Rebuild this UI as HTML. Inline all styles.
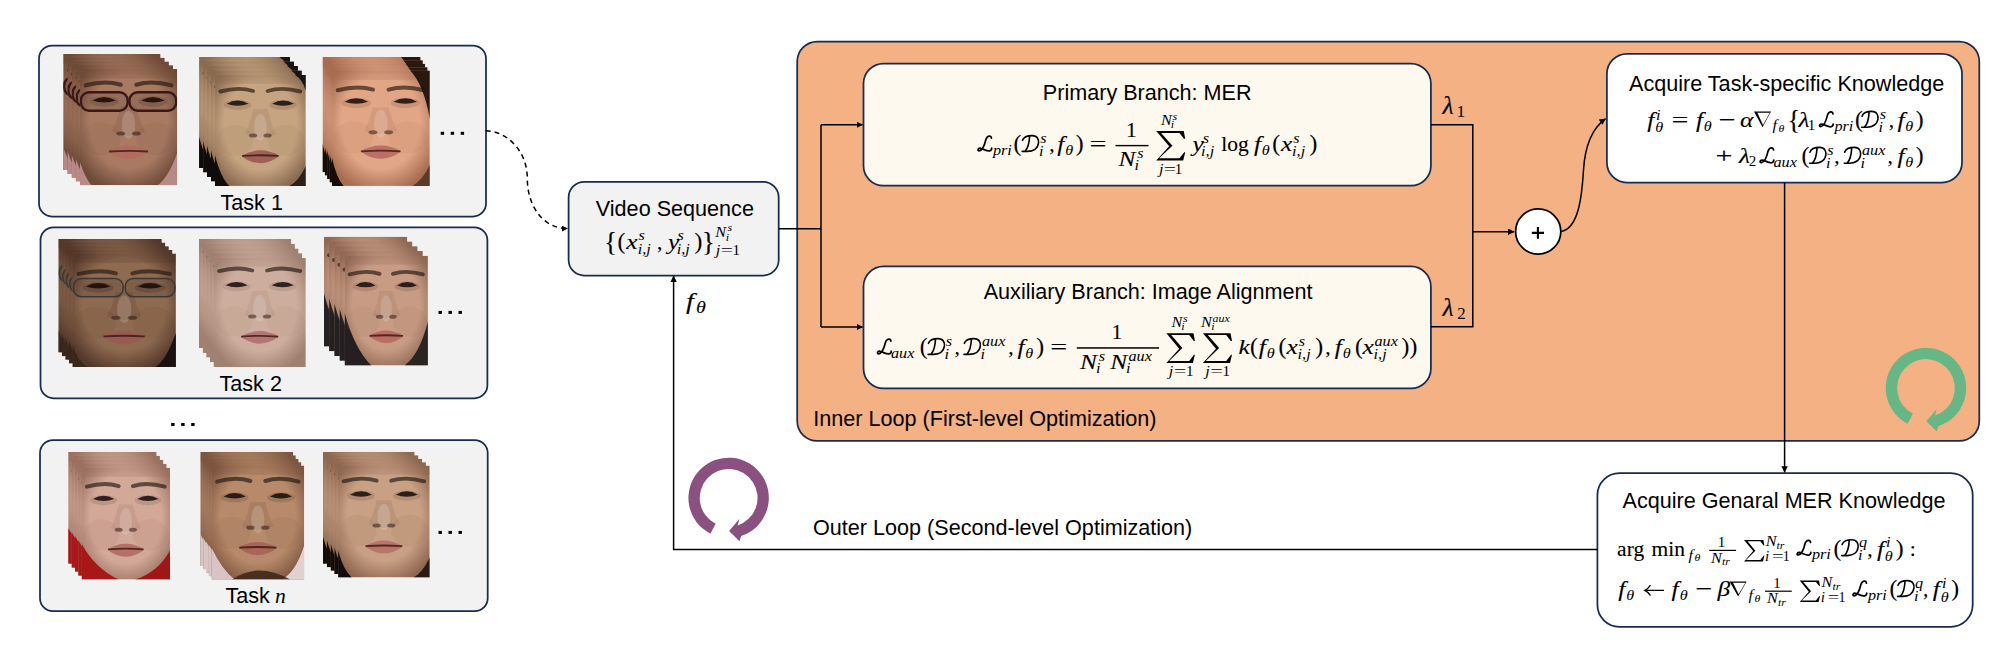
<!DOCTYPE html>
<html><head><meta charset="utf-8">
<style>
html,body{margin:0;padding:0;background:#fff;}
#root{position:relative;width:1998px;height:647px;overflow:hidden;background:#fff;}
svg{position:absolute;left:0;top:0;}
</style></head>
<body><div id="root">
<svg width="1998" height="647" viewBox="0 0 1998 647">
<defs>
<marker id="ah" markerWidth="8" markerHeight="8" refX="6" refY="3.2" orient="auto" markerUnits="userSpaceOnUse">
<path d="M0 0 L6.5 3.2 L0 6.4 Z" fill="#000"/>
</marker>
</defs>
<!-- task boxes -->
<rect x="39" y="45.6" width="447" height="170.9" rx="13" fill="#f2f2f2" stroke="#172c50" stroke-width="1.75"/>
<rect x="40.5" y="227.3" width="446.9" height="171" rx="13" fill="#f2f2f2" stroke="#172c50" stroke-width="1.75"/>
<rect x="40" y="440" width="447.7" height="171.2" rx="13" fill="#f2f2f2" stroke="#172c50" stroke-width="1.75"/>
<!-- video sequence -->
<rect x="568.6" y="181.9" width="210.1" height="93.6" rx="15.6" fill="#f2f2f2" stroke="#172c50" stroke-width="1.75"/>
<!-- orange -->
<rect x="797.2" y="41.5" width="1182.1" height="399.4" rx="20" fill="#f4b183" stroke="#172c50" stroke-width="1.75"/>
<rect x="863.5" y="63.6" width="567.4" height="122.1" rx="20" fill="#fef9ee" stroke="#172c50" stroke-width="1.75"/>
<rect x="863.5" y="266.4" width="567.4" height="122" rx="20" fill="#fef9ee" stroke="#172c50" stroke-width="1.75"/>
<rect x="1606.9" y="53.8" width="355.1" height="128.7" rx="20" fill="#fff" stroke="#172c50" stroke-width="1.75"/>
<rect x="1597.4" y="473.1" width="375.3" height="153.7" rx="22" fill="#fff" stroke="#172c50" stroke-width="1.75"/>
<!-- lines -->
<g stroke="#000" stroke-width="1.5" fill="none">
<path d="M778.7 228.8 H821"/>
<path d="M821 124.8 V327"/>
<path d="M821 124.8 H862.5" marker-end="url(#ah)"/>
<path d="M821 327 H862.5" marker-end="url(#ah)"/>
<path d="M1431 124.8 H1472.8 V326.7 H1431"/>
<path d="M1472.8 231.7 H1514" marker-end="url(#ah)"/>
<path d="M1561.4 231.5 C1579 228 1582 195 1583.5 170 C1585 146 1591 129 1605.5 118.8" marker-end="url(#ah)"/>
<path d="M1784.6 182.5 V472.3" marker-end="url(#ah)"/>
<path d="M1597.4 549.5 H673.6 V276" marker-end="url(#ah)"/>
<path d="M485.7 130.7 C506 131 527.3 150 527.3 178.4 C527.3 206 543 228.6 567.5 228.6" stroke-dasharray="5 4" marker-end="url(#ah)"/>
</g>
<circle cx="1538.2" cy="231.5" r="22.6" fill="#fff" stroke="#000" stroke-width="1.75"/>
<!-- loops -->
<path d="M710.4 533.7 A40.2 40.2 0 1 1 741.1 536.1 L739.5 541.2 L729.1 531.1 L739.5 518.8 L737.6 525.4 A28.9 28.9 0 1 0 715.6 523.7 Z" fill="#8a5180"/>
<path d="M1907.7 423.8 A40.2 40.2 0 1 1 1938.4 426.2 L1936.8 431.3 L1926.4 421.2 L1936.8 408.9 L1934.9 415.5 A28.9 28.9 0 1 0 1912.9 413.8 Z" fill="#66b686"/>

<defs><clipPath id="cla"><rect x="0" y="0" width="97.3" height="116.2"/></clipPath><radialGradient id="ska" cx="0.5" cy="0.45" r="0.62"><stop offset="0" stop-color="#a87a62"/><stop offset="0.65" stop-color="#a87a62"/><stop offset="1" stop-color="#6e4a38"/></radialGradient>
<clipPath id="clb"><rect x="0" y="0" width="90.9" height="111.0"/></clipPath><radialGradient id="skb" cx="0.5" cy="0.45" r="0.62"><stop offset="0" stop-color="#c6a482"/><stop offset="0.65" stop-color="#c6a482"/><stop offset="1" stop-color="#8a6a50"/></radialGradient>
<clipPath id="clc"><rect x="0" y="0" width="98.0" height="115.3"/></clipPath><radialGradient id="skc" cx="0.5" cy="0.45" r="0.62"><stop offset="0" stop-color="#e0a686"/><stop offset="0.65" stop-color="#e0a686"/><stop offset="1" stop-color="#a86c50"/></radialGradient>
<clipPath id="cld"><rect x="0" y="0" width="103.5" height="113.6"/></clipPath><radialGradient id="skd" cx="0.5" cy="0.45" r="0.62"><stop offset="0" stop-color="#8e6a50"/><stop offset="0.65" stop-color="#8e6a50"/><stop offset="1" stop-color="#54382a"/></radialGradient>
<clipPath id="cle"><rect x="0" y="0" width="92.3" height="109.1"/></clipPath><radialGradient id="ske" cx="0.5" cy="0.45" r="0.62"><stop offset="0" stop-color="#cdae9e"/><stop offset="0.65" stop-color="#cdae9e"/><stop offset="1" stop-color="#a08070"/></radialGradient>
<clipPath id="clf"><rect x="0" y="0" width="83.3" height="109.7"/></clipPath><radialGradient id="skf" cx="0.5" cy="0.45" r="0.62"><stop offset="0" stop-color="#c89c84"/><stop offset="0.65" stop-color="#c89c84"/><stop offset="1" stop-color="#906854"/></radialGradient>
<clipPath id="clg"><rect x="0" y="0" width="88.4" height="111.9"/></clipPath><radialGradient id="skg" cx="0.5" cy="0.45" r="0.62"><stop offset="0" stop-color="#d2a898"/><stop offset="0.65" stop-color="#d2a898"/><stop offset="1" stop-color="#9a7060"/></radialGradient>
<clipPath id="clh"><rect x="0" y="0" width="92.7" height="114.0"/></clipPath><radialGradient id="skh" cx="0.5" cy="0.45" r="0.62"><stop offset="0" stop-color="#b68a6a"/><stop offset="0.65" stop-color="#b68a6a"/><stop offset="1" stop-color="#7e5640"/></radialGradient>
<clipPath id="cli"><rect x="0" y="0" width="91.6" height="111.9"/></clipPath><radialGradient id="ski" cx="0.5" cy="0.45" r="0.62"><stop offset="0" stop-color="#c8a084"/><stop offset="0.65" stop-color="#c8a084"/><stop offset="1" stop-color="#8e6850"/></radialGradient></defs>
<g transform="translate(63.2 53.9)"><g clip-path="url(#cla)"><rect x="0" y="0" width="97.3" height="116.2" fill="url(#ska)"/><rect x="0" y="0" width="97.3" height="9.3" fill="#6e4a38" opacity="0.25"/><path d="M0 93.0 Q5.8 110.4 11.7 116.2 L0 116.2 Z" fill="#b88a86"/><path d="M97.3 83.7 Q89.5 106.9 77.8 116.2 L97.3 116.2 Z" fill="#b88a86"/><ellipse cx="21.4" cy="69.7" rx="19.5" ry="16.3" fill="#6e4a38" opacity="0.1"/><ellipse cx="75.9" cy="69.7" rx="19.5" ry="16.3" fill="#6e4a38" opacity="0.1"/><path d="M40.9 37.2 Q37.0 54.6 32.1 62.7 Q48.6 70.9 65.2 62.7 Q60.3 54.6 56.4 37.2 Z" fill="#6e4a38" opacity="0.2"/><ellipse cx="48.6" cy="55.8" rx="6.8" ry="13.9" fill="#fff" opacity="0.16"/><ellipse cx="40.9" cy="64.5" rx="4.4" ry="2.1" fill="#2a1410" opacity="0.5"/><ellipse cx="56.4" cy="64.5" rx="4.4" ry="2.1" fill="#2a1410" opacity="0.5"/><path d="M40.9 15.7 Q25.3 11.0 5.8 16.3" stroke="#24160e" stroke-width="4.1" fill="none" opacity="0.65" stroke-linecap="round"/><path d="M56.4 15.7 Q72.0 11.0 91.5 16.3" stroke="#24160e" stroke-width="4.1" fill="none" opacity="0.65" stroke-linecap="round"/><ellipse cx="24.3" cy="32.5" rx="14.6" ry="5.2" fill="#6e4a38" opacity="0.35"/><path d="M12.6 31.4 Q24.3 24.4 36.0 31.4 Q24.3 35.4 12.6 31.4 Z" fill="#140c0a" opacity="0.85"/><ellipse cx="73.0" cy="32.5" rx="14.6" ry="5.2" fill="#6e4a38" opacity="0.35"/><path d="M61.3 31.4 Q73.0 24.4 84.7 31.4 Q73.0 35.4 61.3 31.4 Z" fill="#140c0a" opacity="0.85"/><rect x="1.0" y="23.2" width="46.7" height="18.6" rx="8.1" fill="#000" fill-opacity="0.1" stroke="#3a1818" stroke-width="2.4"/><rect x="49.6" y="23.2" width="46.7" height="18.6" rx="8.1" fill="#000" fill-opacity="0.1" stroke="#3a1818" stroke-width="2.4"/><path d="M28.2 82.5 Q48.6 70.9 69.1 82.5 Q48.6 97.6 28.2 82.5 Z" fill="#b06a60" opacity="0.9"/><path d="M29.2 82.5 Q48.6 81.1 68.1 82.5" stroke="#3a1512" stroke-width="1.8" fill="none" opacity="0.8"/></g></g>
<g transform="translate(67.4 57.7)"><g clip-path="url(#cla)"><rect x="0" y="0" width="97.3" height="116.2" fill="url(#ska)"/><rect x="0" y="0" width="97.3" height="9.3" fill="#6e4a38" opacity="0.25"/><path d="M0 93.0 Q5.8 110.4 11.7 116.2 L0 116.2 Z" fill="#b88a86"/><path d="M97.3 83.7 Q89.5 106.9 77.8 116.2 L97.3 116.2 Z" fill="#b88a86"/><ellipse cx="21.4" cy="69.7" rx="19.5" ry="16.3" fill="#6e4a38" opacity="0.1"/><ellipse cx="75.9" cy="69.7" rx="19.5" ry="16.3" fill="#6e4a38" opacity="0.1"/><path d="M40.9 37.2 Q37.0 54.6 32.1 62.7 Q48.6 70.9 65.2 62.7 Q60.3 54.6 56.4 37.2 Z" fill="#6e4a38" opacity="0.2"/><ellipse cx="48.6" cy="55.8" rx="6.8" ry="13.9" fill="#fff" opacity="0.16"/><ellipse cx="40.9" cy="64.5" rx="4.4" ry="2.1" fill="#2a1410" opacity="0.5"/><ellipse cx="56.4" cy="64.5" rx="4.4" ry="2.1" fill="#2a1410" opacity="0.5"/><path d="M40.9 15.7 Q25.3 11.0 5.8 16.3" stroke="#24160e" stroke-width="4.1" fill="none" opacity="0.65" stroke-linecap="round"/><path d="M56.4 15.7 Q72.0 11.0 91.5 16.3" stroke="#24160e" stroke-width="4.1" fill="none" opacity="0.65" stroke-linecap="round"/><ellipse cx="24.3" cy="32.5" rx="14.6" ry="5.2" fill="#6e4a38" opacity="0.35"/><path d="M12.6 31.4 Q24.3 24.4 36.0 31.4 Q24.3 35.4 12.6 31.4 Z" fill="#140c0a" opacity="0.85"/><ellipse cx="73.0" cy="32.5" rx="14.6" ry="5.2" fill="#6e4a38" opacity="0.35"/><path d="M61.3 31.4 Q73.0 24.4 84.7 31.4 Q73.0 35.4 61.3 31.4 Z" fill="#140c0a" opacity="0.85"/><rect x="1.0" y="23.2" width="46.7" height="18.6" rx="8.1" fill="#000" fill-opacity="0.1" stroke="#3a1818" stroke-width="2.4"/><rect x="49.6" y="23.2" width="46.7" height="18.6" rx="8.1" fill="#000" fill-opacity="0.1" stroke="#3a1818" stroke-width="2.4"/><path d="M28.2 82.5 Q48.6 70.9 69.1 82.5 Q48.6 97.6 28.2 82.5 Z" fill="#b06a60" opacity="0.9"/><path d="M29.2 82.5 Q48.6 81.1 68.1 82.5" stroke="#3a1512" stroke-width="1.8" fill="none" opacity="0.8"/></g></g>
<g transform="translate(71.6 61.5)"><g clip-path="url(#cla)"><rect x="0" y="0" width="97.3" height="116.2" fill="url(#ska)"/><rect x="0" y="0" width="97.3" height="9.3" fill="#6e4a38" opacity="0.25"/><path d="M0 93.0 Q5.8 110.4 11.7 116.2 L0 116.2 Z" fill="#b88a86"/><path d="M97.3 83.7 Q89.5 106.9 77.8 116.2 L97.3 116.2 Z" fill="#b88a86"/><ellipse cx="21.4" cy="69.7" rx="19.5" ry="16.3" fill="#6e4a38" opacity="0.1"/><ellipse cx="75.9" cy="69.7" rx="19.5" ry="16.3" fill="#6e4a38" opacity="0.1"/><path d="M40.9 37.2 Q37.0 54.6 32.1 62.7 Q48.6 70.9 65.2 62.7 Q60.3 54.6 56.4 37.2 Z" fill="#6e4a38" opacity="0.2"/><ellipse cx="48.6" cy="55.8" rx="6.8" ry="13.9" fill="#fff" opacity="0.16"/><ellipse cx="40.9" cy="64.5" rx="4.4" ry="2.1" fill="#2a1410" opacity="0.5"/><ellipse cx="56.4" cy="64.5" rx="4.4" ry="2.1" fill="#2a1410" opacity="0.5"/><path d="M40.9 15.7 Q25.3 11.0 5.8 16.3" stroke="#24160e" stroke-width="4.1" fill="none" opacity="0.65" stroke-linecap="round"/><path d="M56.4 15.7 Q72.0 11.0 91.5 16.3" stroke="#24160e" stroke-width="4.1" fill="none" opacity="0.65" stroke-linecap="round"/><ellipse cx="24.3" cy="32.5" rx="14.6" ry="5.2" fill="#6e4a38" opacity="0.35"/><path d="M12.6 31.4 Q24.3 24.4 36.0 31.4 Q24.3 35.4 12.6 31.4 Z" fill="#140c0a" opacity="0.85"/><ellipse cx="73.0" cy="32.5" rx="14.6" ry="5.2" fill="#6e4a38" opacity="0.35"/><path d="M61.3 31.4 Q73.0 24.4 84.7 31.4 Q73.0 35.4 61.3 31.4 Z" fill="#140c0a" opacity="0.85"/><rect x="1.0" y="23.2" width="46.7" height="18.6" rx="8.1" fill="#000" fill-opacity="0.1" stroke="#3a1818" stroke-width="2.4"/><rect x="49.6" y="23.2" width="46.7" height="18.6" rx="8.1" fill="#000" fill-opacity="0.1" stroke="#3a1818" stroke-width="2.4"/><path d="M28.2 82.5 Q48.6 70.9 69.1 82.5 Q48.6 97.6 28.2 82.5 Z" fill="#b06a60" opacity="0.9"/><path d="M29.2 82.5 Q48.6 81.1 68.1 82.5" stroke="#3a1512" stroke-width="1.8" fill="none" opacity="0.8"/></g></g>
<g transform="translate(75.7 65.2)"><g clip-path="url(#cla)"><rect x="0" y="0" width="97.3" height="116.2" fill="url(#ska)"/><rect x="0" y="0" width="97.3" height="9.3" fill="#6e4a38" opacity="0.25"/><path d="M0 93.0 Q5.8 110.4 11.7 116.2 L0 116.2 Z" fill="#b88a86"/><path d="M97.3 83.7 Q89.5 106.9 77.8 116.2 L97.3 116.2 Z" fill="#b88a86"/><ellipse cx="21.4" cy="69.7" rx="19.5" ry="16.3" fill="#6e4a38" opacity="0.1"/><ellipse cx="75.9" cy="69.7" rx="19.5" ry="16.3" fill="#6e4a38" opacity="0.1"/><path d="M40.9 37.2 Q37.0 54.6 32.1 62.7 Q48.6 70.9 65.2 62.7 Q60.3 54.6 56.4 37.2 Z" fill="#6e4a38" opacity="0.2"/><ellipse cx="48.6" cy="55.8" rx="6.8" ry="13.9" fill="#fff" opacity="0.16"/><ellipse cx="40.9" cy="64.5" rx="4.4" ry="2.1" fill="#2a1410" opacity="0.5"/><ellipse cx="56.4" cy="64.5" rx="4.4" ry="2.1" fill="#2a1410" opacity="0.5"/><path d="M40.9 15.7 Q25.3 11.0 5.8 16.3" stroke="#24160e" stroke-width="4.1" fill="none" opacity="0.65" stroke-linecap="round"/><path d="M56.4 15.7 Q72.0 11.0 91.5 16.3" stroke="#24160e" stroke-width="4.1" fill="none" opacity="0.65" stroke-linecap="round"/><ellipse cx="24.3" cy="32.5" rx="14.6" ry="5.2" fill="#6e4a38" opacity="0.35"/><path d="M12.6 31.4 Q24.3 24.4 36.0 31.4 Q24.3 35.4 12.6 31.4 Z" fill="#140c0a" opacity="0.85"/><ellipse cx="73.0" cy="32.5" rx="14.6" ry="5.2" fill="#6e4a38" opacity="0.35"/><path d="M61.3 31.4 Q73.0 24.4 84.7 31.4 Q73.0 35.4 61.3 31.4 Z" fill="#140c0a" opacity="0.85"/><rect x="1.0" y="23.2" width="46.7" height="18.6" rx="8.1" fill="#000" fill-opacity="0.1" stroke="#3a1818" stroke-width="2.4"/><rect x="49.6" y="23.2" width="46.7" height="18.6" rx="8.1" fill="#000" fill-opacity="0.1" stroke="#3a1818" stroke-width="2.4"/><path d="M28.2 82.5 Q48.6 70.9 69.1 82.5 Q48.6 97.6 28.2 82.5 Z" fill="#b06a60" opacity="0.9"/><path d="M29.2 82.5 Q48.6 81.1 68.1 82.5" stroke="#3a1512" stroke-width="1.8" fill="none" opacity="0.8"/></g></g>
<g transform="translate(79.9 69.0)"><g clip-path="url(#cla)"><rect x="0" y="0" width="97.3" height="116.2" fill="url(#ska)"/><rect x="0" y="0" width="97.3" height="9.3" fill="#6e4a38" opacity="0.25"/><path d="M0 93.0 Q5.8 110.4 11.7 116.2 L0 116.2 Z" fill="#b88a86"/><path d="M97.3 83.7 Q89.5 106.9 77.8 116.2 L97.3 116.2 Z" fill="#b88a86"/><ellipse cx="21.4" cy="69.7" rx="19.5" ry="16.3" fill="#6e4a38" opacity="0.1"/><ellipse cx="75.9" cy="69.7" rx="19.5" ry="16.3" fill="#6e4a38" opacity="0.1"/><path d="M40.9 37.2 Q37.0 54.6 32.1 62.7 Q48.6 70.9 65.2 62.7 Q60.3 54.6 56.4 37.2 Z" fill="#6e4a38" opacity="0.2"/><ellipse cx="48.6" cy="55.8" rx="6.8" ry="13.9" fill="#fff" opacity="0.16"/><ellipse cx="40.9" cy="64.5" rx="4.4" ry="2.1" fill="#2a1410" opacity="0.5"/><ellipse cx="56.4" cy="64.5" rx="4.4" ry="2.1" fill="#2a1410" opacity="0.5"/><path d="M40.9 15.7 Q25.3 11.0 5.8 16.3" stroke="#24160e" stroke-width="4.1" fill="none" opacity="0.65" stroke-linecap="round"/><path d="M56.4 15.7 Q72.0 11.0 91.5 16.3" stroke="#24160e" stroke-width="4.1" fill="none" opacity="0.65" stroke-linecap="round"/><ellipse cx="24.3" cy="32.5" rx="14.6" ry="5.2" fill="#6e4a38" opacity="0.35"/><path d="M12.6 31.4 Q24.3 24.4 36.0 31.4 Q24.3 35.4 12.6 31.4 Z" fill="#140c0a" opacity="0.85"/><ellipse cx="73.0" cy="32.5" rx="14.6" ry="5.2" fill="#6e4a38" opacity="0.35"/><path d="M61.3 31.4 Q73.0 24.4 84.7 31.4 Q73.0 35.4 61.3 31.4 Z" fill="#140c0a" opacity="0.85"/><rect x="1.0" y="23.2" width="46.7" height="18.6" rx="8.1" fill="#000" fill-opacity="0.1" stroke="#3a1818" stroke-width="2.4"/><rect x="49.6" y="23.2" width="46.7" height="18.6" rx="8.1" fill="#000" fill-opacity="0.1" stroke="#3a1818" stroke-width="2.4"/><path d="M28.2 82.5 Q48.6 70.9 69.1 82.5 Q48.6 97.6 28.2 82.5 Z" fill="#b06a60" opacity="0.9"/><path d="M29.2 82.5 Q48.6 81.1 68.1 82.5" stroke="#3a1512" stroke-width="1.8" fill="none" opacity="0.8"/></g></g>
<g transform="translate(199.1 56.9)"><g clip-path="url(#clb)"><rect x="0" y="0" width="90.9" height="111.0" fill="url(#skb)"/><rect x="0" y="0" width="90.9" height="8.9" fill="#8a6a50" opacity="0.25"/><path d="M80.0 0 L90.9 0 L90.9 15.5 Q87.6 4.7 80.0 0 Z" fill="#1a1410"/><path d="M0 79.9 Q5.8 103.2 14.5 111.0 L0 111.0 Z" fill="#100c0a"/><path d="M90.9 91.0 Q83.6 106.6 74.5 111.0 L90.9 111.0 Z" fill="#2a2018"/><ellipse cx="20.0" cy="65.5" rx="18.2" ry="15.5" fill="#8a6a50" opacity="0.1"/><ellipse cx="70.9" cy="65.5" rx="18.2" ry="15.5" fill="#8a6a50" opacity="0.1"/><path d="M38.2 34.4 Q34.5 51.1 30.0 58.8 Q45.5 66.6 60.9 58.8 Q56.4 51.1 52.7 34.4 Z" fill="#8a6a50" opacity="0.2"/><ellipse cx="45.5" cy="52.2" rx="6.4" ry="13.3" fill="#fff" opacity="0.16"/><ellipse cx="38.2" cy="60.5" rx="4.1" ry="2.0" fill="#2a1410" opacity="0.5"/><ellipse cx="52.7" cy="60.5" rx="4.1" ry="2.0" fill="#2a1410" opacity="0.5"/><path d="M38.2 16.1 Q23.6 11.7 5.5 16.6" stroke="#24160e" stroke-width="3.9" fill="none" opacity="0.65" stroke-linecap="round"/><path d="M52.7 16.1 Q67.3 11.7 85.4 16.6" stroke="#24160e" stroke-width="3.9" fill="none" opacity="0.65" stroke-linecap="round"/><ellipse cx="22.7" cy="30.0" rx="13.6" ry="5.0" fill="#8a6a50" opacity="0.35"/><path d="M11.8 28.9 Q22.7 22.2 33.6 28.9 Q22.7 32.7 11.8 28.9 Z" fill="#140c0a" opacity="0.85"/><ellipse cx="68.2" cy="30.0" rx="13.6" ry="5.0" fill="#8a6a50" opacity="0.35"/><path d="M57.3 28.9 Q68.2 22.2 79.1 28.9 Q68.2 32.7 57.3 28.9 Z" fill="#140c0a" opacity="0.85"/><path d="M26.4 81.0 Q45.5 69.9 64.5 81.0 Q45.5 95.5 26.4 81.0 Z" fill="#9a5a50" opacity="0.9"/><path d="M27.3 81.0 Q45.5 79.7 63.6 81.0" stroke="#3a1512" stroke-width="1.8" fill="none" opacity="0.8"/></g></g>
<g transform="translate(203.1 61.4)"><g clip-path="url(#clb)"><rect x="0" y="0" width="90.9" height="111.0" fill="url(#skb)"/><rect x="0" y="0" width="90.9" height="8.9" fill="#8a6a50" opacity="0.25"/><path d="M80.0 0 L90.9 0 L90.9 15.5 Q87.6 4.7 80.0 0 Z" fill="#1a1410"/><path d="M0 79.9 Q5.8 103.2 14.5 111.0 L0 111.0 Z" fill="#100c0a"/><path d="M90.9 91.0 Q83.6 106.6 74.5 111.0 L90.9 111.0 Z" fill="#2a2018"/><ellipse cx="20.0" cy="65.5" rx="18.2" ry="15.5" fill="#8a6a50" opacity="0.1"/><ellipse cx="70.9" cy="65.5" rx="18.2" ry="15.5" fill="#8a6a50" opacity="0.1"/><path d="M38.2 34.4 Q34.5 51.1 30.0 58.8 Q45.5 66.6 60.9 58.8 Q56.4 51.1 52.7 34.4 Z" fill="#8a6a50" opacity="0.2"/><ellipse cx="45.5" cy="52.2" rx="6.4" ry="13.3" fill="#fff" opacity="0.16"/><ellipse cx="38.2" cy="60.5" rx="4.1" ry="2.0" fill="#2a1410" opacity="0.5"/><ellipse cx="52.7" cy="60.5" rx="4.1" ry="2.0" fill="#2a1410" opacity="0.5"/><path d="M38.2 16.1 Q23.6 11.7 5.5 16.6" stroke="#24160e" stroke-width="3.9" fill="none" opacity="0.65" stroke-linecap="round"/><path d="M52.7 16.1 Q67.3 11.7 85.4 16.6" stroke="#24160e" stroke-width="3.9" fill="none" opacity="0.65" stroke-linecap="round"/><ellipse cx="22.7" cy="30.0" rx="13.6" ry="5.0" fill="#8a6a50" opacity="0.35"/><path d="M11.8 28.9 Q22.7 22.2 33.6 28.9 Q22.7 32.7 11.8 28.9 Z" fill="#140c0a" opacity="0.85"/><ellipse cx="68.2" cy="30.0" rx="13.6" ry="5.0" fill="#8a6a50" opacity="0.35"/><path d="M57.3 28.9 Q68.2 22.2 79.1 28.9 Q68.2 32.7 57.3 28.9 Z" fill="#140c0a" opacity="0.85"/><path d="M26.4 81.0 Q45.5 69.9 64.5 81.0 Q45.5 95.5 26.4 81.0 Z" fill="#9a5a50" opacity="0.9"/><path d="M27.3 81.0 Q45.5 79.7 63.6 81.0" stroke="#3a1512" stroke-width="1.8" fill="none" opacity="0.8"/></g></g>
<g transform="translate(207.0 65.9)"><g clip-path="url(#clb)"><rect x="0" y="0" width="90.9" height="111.0" fill="url(#skb)"/><rect x="0" y="0" width="90.9" height="8.9" fill="#8a6a50" opacity="0.25"/><path d="M80.0 0 L90.9 0 L90.9 15.5 Q87.6 4.7 80.0 0 Z" fill="#1a1410"/><path d="M0 79.9 Q5.8 103.2 14.5 111.0 L0 111.0 Z" fill="#100c0a"/><path d="M90.9 91.0 Q83.6 106.6 74.5 111.0 L90.9 111.0 Z" fill="#2a2018"/><ellipse cx="20.0" cy="65.5" rx="18.2" ry="15.5" fill="#8a6a50" opacity="0.1"/><ellipse cx="70.9" cy="65.5" rx="18.2" ry="15.5" fill="#8a6a50" opacity="0.1"/><path d="M38.2 34.4 Q34.5 51.1 30.0 58.8 Q45.5 66.6 60.9 58.8 Q56.4 51.1 52.7 34.4 Z" fill="#8a6a50" opacity="0.2"/><ellipse cx="45.5" cy="52.2" rx="6.4" ry="13.3" fill="#fff" opacity="0.16"/><ellipse cx="38.2" cy="60.5" rx="4.1" ry="2.0" fill="#2a1410" opacity="0.5"/><ellipse cx="52.7" cy="60.5" rx="4.1" ry="2.0" fill="#2a1410" opacity="0.5"/><path d="M38.2 16.1 Q23.6 11.7 5.5 16.6" stroke="#24160e" stroke-width="3.9" fill="none" opacity="0.65" stroke-linecap="round"/><path d="M52.7 16.1 Q67.3 11.7 85.4 16.6" stroke="#24160e" stroke-width="3.9" fill="none" opacity="0.65" stroke-linecap="round"/><ellipse cx="22.7" cy="30.0" rx="13.6" ry="5.0" fill="#8a6a50" opacity="0.35"/><path d="M11.8 28.9 Q22.7 22.2 33.6 28.9 Q22.7 32.7 11.8 28.9 Z" fill="#140c0a" opacity="0.85"/><ellipse cx="68.2" cy="30.0" rx="13.6" ry="5.0" fill="#8a6a50" opacity="0.35"/><path d="M57.3 28.9 Q68.2 22.2 79.1 28.9 Q68.2 32.7 57.3 28.9 Z" fill="#140c0a" opacity="0.85"/><path d="M26.4 81.0 Q45.5 69.9 64.5 81.0 Q45.5 95.5 26.4 81.0 Z" fill="#9a5a50" opacity="0.9"/><path d="M27.3 81.0 Q45.5 79.7 63.6 81.0" stroke="#3a1512" stroke-width="1.8" fill="none" opacity="0.8"/></g></g>
<g transform="translate(210.9 70.4)"><g clip-path="url(#clb)"><rect x="0" y="0" width="90.9" height="111.0" fill="url(#skb)"/><rect x="0" y="0" width="90.9" height="8.9" fill="#8a6a50" opacity="0.25"/><path d="M80.0 0 L90.9 0 L90.9 15.5 Q87.6 4.7 80.0 0 Z" fill="#1a1410"/><path d="M0 79.9 Q5.8 103.2 14.5 111.0 L0 111.0 Z" fill="#100c0a"/><path d="M90.9 91.0 Q83.6 106.6 74.5 111.0 L90.9 111.0 Z" fill="#2a2018"/><ellipse cx="20.0" cy="65.5" rx="18.2" ry="15.5" fill="#8a6a50" opacity="0.1"/><ellipse cx="70.9" cy="65.5" rx="18.2" ry="15.5" fill="#8a6a50" opacity="0.1"/><path d="M38.2 34.4 Q34.5 51.1 30.0 58.8 Q45.5 66.6 60.9 58.8 Q56.4 51.1 52.7 34.4 Z" fill="#8a6a50" opacity="0.2"/><ellipse cx="45.5" cy="52.2" rx="6.4" ry="13.3" fill="#fff" opacity="0.16"/><ellipse cx="38.2" cy="60.5" rx="4.1" ry="2.0" fill="#2a1410" opacity="0.5"/><ellipse cx="52.7" cy="60.5" rx="4.1" ry="2.0" fill="#2a1410" opacity="0.5"/><path d="M38.2 16.1 Q23.6 11.7 5.5 16.6" stroke="#24160e" stroke-width="3.9" fill="none" opacity="0.65" stroke-linecap="round"/><path d="M52.7 16.1 Q67.3 11.7 85.4 16.6" stroke="#24160e" stroke-width="3.9" fill="none" opacity="0.65" stroke-linecap="round"/><ellipse cx="22.7" cy="30.0" rx="13.6" ry="5.0" fill="#8a6a50" opacity="0.35"/><path d="M11.8 28.9 Q22.7 22.2 33.6 28.9 Q22.7 32.7 11.8 28.9 Z" fill="#140c0a" opacity="0.85"/><ellipse cx="68.2" cy="30.0" rx="13.6" ry="5.0" fill="#8a6a50" opacity="0.35"/><path d="M57.3 28.9 Q68.2 22.2 79.1 28.9 Q68.2 32.7 57.3 28.9 Z" fill="#140c0a" opacity="0.85"/><path d="M26.4 81.0 Q45.5 69.9 64.5 81.0 Q45.5 95.5 26.4 81.0 Z" fill="#9a5a50" opacity="0.9"/><path d="M27.3 81.0 Q45.5 79.7 63.6 81.0" stroke="#3a1512" stroke-width="1.8" fill="none" opacity="0.8"/></g></g>
<g transform="translate(214.9 74.9)"><g clip-path="url(#clb)"><rect x="0" y="0" width="90.9" height="111.0" fill="url(#skb)"/><rect x="0" y="0" width="90.9" height="8.9" fill="#8a6a50" opacity="0.25"/><path d="M80.0 0 L90.9 0 L90.9 15.5 Q87.6 4.7 80.0 0 Z" fill="#1a1410"/><path d="M0 79.9 Q5.8 103.2 14.5 111.0 L0 111.0 Z" fill="#100c0a"/><path d="M90.9 91.0 Q83.6 106.6 74.5 111.0 L90.9 111.0 Z" fill="#2a2018"/><ellipse cx="20.0" cy="65.5" rx="18.2" ry="15.5" fill="#8a6a50" opacity="0.1"/><ellipse cx="70.9" cy="65.5" rx="18.2" ry="15.5" fill="#8a6a50" opacity="0.1"/><path d="M38.2 34.4 Q34.5 51.1 30.0 58.8 Q45.5 66.6 60.9 58.8 Q56.4 51.1 52.7 34.4 Z" fill="#8a6a50" opacity="0.2"/><ellipse cx="45.5" cy="52.2" rx="6.4" ry="13.3" fill="#fff" opacity="0.16"/><ellipse cx="38.2" cy="60.5" rx="4.1" ry="2.0" fill="#2a1410" opacity="0.5"/><ellipse cx="52.7" cy="60.5" rx="4.1" ry="2.0" fill="#2a1410" opacity="0.5"/><path d="M38.2 16.1 Q23.6 11.7 5.5 16.6" stroke="#24160e" stroke-width="3.9" fill="none" opacity="0.65" stroke-linecap="round"/><path d="M52.7 16.1 Q67.3 11.7 85.4 16.6" stroke="#24160e" stroke-width="3.9" fill="none" opacity="0.65" stroke-linecap="round"/><ellipse cx="22.7" cy="30.0" rx="13.6" ry="5.0" fill="#8a6a50" opacity="0.35"/><path d="M11.8 28.9 Q22.7 22.2 33.6 28.9 Q22.7 32.7 11.8 28.9 Z" fill="#140c0a" opacity="0.85"/><ellipse cx="68.2" cy="30.0" rx="13.6" ry="5.0" fill="#8a6a50" opacity="0.35"/><path d="M57.3 28.9 Q68.2 22.2 79.1 28.9 Q68.2 32.7 57.3 28.9 Z" fill="#140c0a" opacity="0.85"/><path d="M26.4 81.0 Q45.5 69.9 64.5 81.0 Q45.5 95.5 26.4 81.0 Z" fill="#9a5a50" opacity="0.9"/><path d="M27.3 81.0 Q45.5 79.7 63.6 81.0" stroke="#3a1512" stroke-width="1.8" fill="none" opacity="0.8"/></g></g>
<g transform="translate(322.5 56.9)"><g clip-path="url(#clc)"><rect x="0" y="0" width="98.0" height="115.3" fill="url(#skc)"/><rect x="0" y="0" width="98.0" height="9.2" fill="#a86c50" opacity="0.25"/><path d="M78.4 0 L98.0 0 L98.0 48.4 Q92.1 14.5 78.4 0 Z" fill="#281810"/><path d="M0 86.5 Q4.7 108.1 11.8 115.3 L0 115.3 Z" fill="#140c08"/><path d="M98.0 94.5 Q90.2 110.7 80.4 115.3 L98.0 115.3 Z" fill="#5a3a28"/><ellipse cx="21.6" cy="66.9" rx="19.6" ry="16.1" fill="#a86c50" opacity="0.1"/><ellipse cx="76.4" cy="66.9" rx="19.6" ry="16.1" fill="#a86c50" opacity="0.1"/><path d="M41.2 36.9 Q37.2 51.9 32.3 60.0 Q49.0 68.0 65.7 60.0 Q60.8 51.9 56.8 36.9 Z" fill="#a86c50" opacity="0.2"/><ellipse cx="49.0" cy="53.0" rx="6.9" ry="13.8" fill="#fff" opacity="0.16"/><ellipse cx="41.2" cy="61.7" rx="4.4" ry="2.1" fill="#2a1410" opacity="0.5"/><ellipse cx="56.8" cy="61.7" rx="4.4" ry="2.1" fill="#2a1410" opacity="0.5"/><path d="M41.2 19.0 Q25.5 14.4 5.9 19.6" stroke="#24160e" stroke-width="4.0" fill="none" opacity="0.65" stroke-linecap="round"/><path d="M56.8 19.0 Q72.5 14.4 92.1 19.6" stroke="#24160e" stroke-width="4.0" fill="none" opacity="0.65" stroke-linecap="round"/><ellipse cx="24.5" cy="32.3" rx="14.7" ry="5.2" fill="#a86c50" opacity="0.35"/><path d="M12.7 31.1 Q24.5 24.2 36.3 31.1 Q24.5 35.2 12.7 31.1 Z" fill="#140c0a" opacity="0.85"/><ellipse cx="73.5" cy="32.3" rx="14.7" ry="5.2" fill="#a86c50" opacity="0.35"/><path d="M61.7 31.1 Q73.5 24.2 85.3 31.1 Q73.5 35.2 61.7 31.1 Z" fill="#140c0a" opacity="0.85"/><path d="M28.4 80.7 Q49.0 69.2 69.6 80.7 Q49.0 95.7 28.4 80.7 Z" fill="#b86a62" opacity="0.9"/><path d="M29.4 80.7 Q49.0 79.3 68.6 80.7" stroke="#3a1512" stroke-width="1.8" fill="none" opacity="0.8"/></g></g>
<g transform="translate(324.8 60.3)"><g clip-path="url(#clc)"><rect x="0" y="0" width="98.0" height="115.3" fill="url(#skc)"/><rect x="0" y="0" width="98.0" height="9.2" fill="#a86c50" opacity="0.25"/><path d="M78.4 0 L98.0 0 L98.0 48.4 Q92.1 14.5 78.4 0 Z" fill="#281810"/><path d="M0 86.5 Q4.7 108.1 11.8 115.3 L0 115.3 Z" fill="#140c08"/><path d="M98.0 94.5 Q90.2 110.7 80.4 115.3 L98.0 115.3 Z" fill="#5a3a28"/><ellipse cx="21.6" cy="66.9" rx="19.6" ry="16.1" fill="#a86c50" opacity="0.1"/><ellipse cx="76.4" cy="66.9" rx="19.6" ry="16.1" fill="#a86c50" opacity="0.1"/><path d="M41.2 36.9 Q37.2 51.9 32.3 60.0 Q49.0 68.0 65.7 60.0 Q60.8 51.9 56.8 36.9 Z" fill="#a86c50" opacity="0.2"/><ellipse cx="49.0" cy="53.0" rx="6.9" ry="13.8" fill="#fff" opacity="0.16"/><ellipse cx="41.2" cy="61.7" rx="4.4" ry="2.1" fill="#2a1410" opacity="0.5"/><ellipse cx="56.8" cy="61.7" rx="4.4" ry="2.1" fill="#2a1410" opacity="0.5"/><path d="M41.2 19.0 Q25.5 14.4 5.9 19.6" stroke="#24160e" stroke-width="4.0" fill="none" opacity="0.65" stroke-linecap="round"/><path d="M56.8 19.0 Q72.5 14.4 92.1 19.6" stroke="#24160e" stroke-width="4.0" fill="none" opacity="0.65" stroke-linecap="round"/><ellipse cx="24.5" cy="32.3" rx="14.7" ry="5.2" fill="#a86c50" opacity="0.35"/><path d="M12.7 31.1 Q24.5 24.2 36.3 31.1 Q24.5 35.2 12.7 31.1 Z" fill="#140c0a" opacity="0.85"/><ellipse cx="73.5" cy="32.3" rx="14.7" ry="5.2" fill="#a86c50" opacity="0.35"/><path d="M61.7 31.1 Q73.5 24.2 85.3 31.1 Q73.5 35.2 61.7 31.1 Z" fill="#140c0a" opacity="0.85"/><path d="M28.4 80.7 Q49.0 69.2 69.6 80.7 Q49.0 95.7 28.4 80.7 Z" fill="#b86a62" opacity="0.9"/><path d="M29.4 80.7 Q49.0 79.3 68.6 80.7" stroke="#3a1512" stroke-width="1.8" fill="none" opacity="0.8"/></g></g>
<g transform="translate(327.1 63.8)"><g clip-path="url(#clc)"><rect x="0" y="0" width="98.0" height="115.3" fill="url(#skc)"/><rect x="0" y="0" width="98.0" height="9.2" fill="#a86c50" opacity="0.25"/><path d="M78.4 0 L98.0 0 L98.0 48.4 Q92.1 14.5 78.4 0 Z" fill="#281810"/><path d="M0 86.5 Q4.7 108.1 11.8 115.3 L0 115.3 Z" fill="#140c08"/><path d="M98.0 94.5 Q90.2 110.7 80.4 115.3 L98.0 115.3 Z" fill="#5a3a28"/><ellipse cx="21.6" cy="66.9" rx="19.6" ry="16.1" fill="#a86c50" opacity="0.1"/><ellipse cx="76.4" cy="66.9" rx="19.6" ry="16.1" fill="#a86c50" opacity="0.1"/><path d="M41.2 36.9 Q37.2 51.9 32.3 60.0 Q49.0 68.0 65.7 60.0 Q60.8 51.9 56.8 36.9 Z" fill="#a86c50" opacity="0.2"/><ellipse cx="49.0" cy="53.0" rx="6.9" ry="13.8" fill="#fff" opacity="0.16"/><ellipse cx="41.2" cy="61.7" rx="4.4" ry="2.1" fill="#2a1410" opacity="0.5"/><ellipse cx="56.8" cy="61.7" rx="4.4" ry="2.1" fill="#2a1410" opacity="0.5"/><path d="M41.2 19.0 Q25.5 14.4 5.9 19.6" stroke="#24160e" stroke-width="4.0" fill="none" opacity="0.65" stroke-linecap="round"/><path d="M56.8 19.0 Q72.5 14.4 92.1 19.6" stroke="#24160e" stroke-width="4.0" fill="none" opacity="0.65" stroke-linecap="round"/><ellipse cx="24.5" cy="32.3" rx="14.7" ry="5.2" fill="#a86c50" opacity="0.35"/><path d="M12.7 31.1 Q24.5 24.2 36.3 31.1 Q24.5 35.2 12.7 31.1 Z" fill="#140c0a" opacity="0.85"/><ellipse cx="73.5" cy="32.3" rx="14.7" ry="5.2" fill="#a86c50" opacity="0.35"/><path d="M61.7 31.1 Q73.5 24.2 85.3 31.1 Q73.5 35.2 61.7 31.1 Z" fill="#140c0a" opacity="0.85"/><path d="M28.4 80.7 Q49.0 69.2 69.6 80.7 Q49.0 95.7 28.4 80.7 Z" fill="#b86a62" opacity="0.9"/><path d="M29.4 80.7 Q49.0 79.3 68.6 80.7" stroke="#3a1512" stroke-width="1.8" fill="none" opacity="0.8"/></g></g>
<g transform="translate(329.5 67.2)"><g clip-path="url(#clc)"><rect x="0" y="0" width="98.0" height="115.3" fill="url(#skc)"/><rect x="0" y="0" width="98.0" height="9.2" fill="#a86c50" opacity="0.25"/><path d="M78.4 0 L98.0 0 L98.0 48.4 Q92.1 14.5 78.4 0 Z" fill="#281810"/><path d="M0 86.5 Q4.7 108.1 11.8 115.3 L0 115.3 Z" fill="#140c08"/><path d="M98.0 94.5 Q90.2 110.7 80.4 115.3 L98.0 115.3 Z" fill="#5a3a28"/><ellipse cx="21.6" cy="66.9" rx="19.6" ry="16.1" fill="#a86c50" opacity="0.1"/><ellipse cx="76.4" cy="66.9" rx="19.6" ry="16.1" fill="#a86c50" opacity="0.1"/><path d="M41.2 36.9 Q37.2 51.9 32.3 60.0 Q49.0 68.0 65.7 60.0 Q60.8 51.9 56.8 36.9 Z" fill="#a86c50" opacity="0.2"/><ellipse cx="49.0" cy="53.0" rx="6.9" ry="13.8" fill="#fff" opacity="0.16"/><ellipse cx="41.2" cy="61.7" rx="4.4" ry="2.1" fill="#2a1410" opacity="0.5"/><ellipse cx="56.8" cy="61.7" rx="4.4" ry="2.1" fill="#2a1410" opacity="0.5"/><path d="M41.2 19.0 Q25.5 14.4 5.9 19.6" stroke="#24160e" stroke-width="4.0" fill="none" opacity="0.65" stroke-linecap="round"/><path d="M56.8 19.0 Q72.5 14.4 92.1 19.6" stroke="#24160e" stroke-width="4.0" fill="none" opacity="0.65" stroke-linecap="round"/><ellipse cx="24.5" cy="32.3" rx="14.7" ry="5.2" fill="#a86c50" opacity="0.35"/><path d="M12.7 31.1 Q24.5 24.2 36.3 31.1 Q24.5 35.2 12.7 31.1 Z" fill="#140c0a" opacity="0.85"/><ellipse cx="73.5" cy="32.3" rx="14.7" ry="5.2" fill="#a86c50" opacity="0.35"/><path d="M61.7 31.1 Q73.5 24.2 85.3 31.1 Q73.5 35.2 61.7 31.1 Z" fill="#140c0a" opacity="0.85"/><path d="M28.4 80.7 Q49.0 69.2 69.6 80.7 Q49.0 95.7 28.4 80.7 Z" fill="#b86a62" opacity="0.9"/><path d="M29.4 80.7 Q49.0 79.3 68.6 80.7" stroke="#3a1512" stroke-width="1.8" fill="none" opacity="0.8"/></g></g>
<g transform="translate(331.8 70.6)"><g clip-path="url(#clc)"><rect x="0" y="0" width="98.0" height="115.3" fill="url(#skc)"/><rect x="0" y="0" width="98.0" height="9.2" fill="#a86c50" opacity="0.25"/><path d="M78.4 0 L98.0 0 L98.0 48.4 Q92.1 14.5 78.4 0 Z" fill="#281810"/><path d="M0 86.5 Q4.7 108.1 11.8 115.3 L0 115.3 Z" fill="#140c08"/><path d="M98.0 94.5 Q90.2 110.7 80.4 115.3 L98.0 115.3 Z" fill="#5a3a28"/><ellipse cx="21.6" cy="66.9" rx="19.6" ry="16.1" fill="#a86c50" opacity="0.1"/><ellipse cx="76.4" cy="66.9" rx="19.6" ry="16.1" fill="#a86c50" opacity="0.1"/><path d="M41.2 36.9 Q37.2 51.9 32.3 60.0 Q49.0 68.0 65.7 60.0 Q60.8 51.9 56.8 36.9 Z" fill="#a86c50" opacity="0.2"/><ellipse cx="49.0" cy="53.0" rx="6.9" ry="13.8" fill="#fff" opacity="0.16"/><ellipse cx="41.2" cy="61.7" rx="4.4" ry="2.1" fill="#2a1410" opacity="0.5"/><ellipse cx="56.8" cy="61.7" rx="4.4" ry="2.1" fill="#2a1410" opacity="0.5"/><path d="M41.2 19.0 Q25.5 14.4 5.9 19.6" stroke="#24160e" stroke-width="4.0" fill="none" opacity="0.65" stroke-linecap="round"/><path d="M56.8 19.0 Q72.5 14.4 92.1 19.6" stroke="#24160e" stroke-width="4.0" fill="none" opacity="0.65" stroke-linecap="round"/><ellipse cx="24.5" cy="32.3" rx="14.7" ry="5.2" fill="#a86c50" opacity="0.35"/><path d="M12.7 31.1 Q24.5 24.2 36.3 31.1 Q24.5 35.2 12.7 31.1 Z" fill="#140c0a" opacity="0.85"/><ellipse cx="73.5" cy="32.3" rx="14.7" ry="5.2" fill="#a86c50" opacity="0.35"/><path d="M61.7 31.1 Q73.5 24.2 85.3 31.1 Q73.5 35.2 61.7 31.1 Z" fill="#140c0a" opacity="0.85"/><path d="M28.4 80.7 Q49.0 69.2 69.6 80.7 Q49.0 95.7 28.4 80.7 Z" fill="#b86a62" opacity="0.9"/><path d="M29.4 80.7 Q49.0 79.3 68.6 80.7" stroke="#3a1512" stroke-width="1.8" fill="none" opacity="0.8"/></g></g>
<g transform="translate(58.3 239.0)"><g clip-path="url(#cld)"><rect x="0" y="0" width="103.5" height="113.6" fill="url(#skd)"/><rect x="0" y="0" width="103.5" height="9.1" fill="#54382a" opacity="0.25"/><path d="M103.5 79.5 Q93.2 107.9 82.8 113.6 L103.5 113.6 Z" fill="#1a1210"/><path d="M0 90.9 Q5.2 107.9 15.5 113.6 L0 113.6 Z" fill="#2a1c14" opacity="0.6"/><ellipse cx="22.8" cy="69.3" rx="20.7" ry="15.9" fill="#54382a" opacity="0.1"/><ellipse cx="80.7" cy="69.3" rx="20.7" ry="15.9" fill="#54382a" opacity="0.1"/><path d="M43.5 38.6 Q39.3 54.5 34.2 62.5 Q51.8 70.4 69.3 62.5 Q64.2 54.5 60.0 38.6 Z" fill="#54382a" opacity="0.2"/><ellipse cx="51.8" cy="55.7" rx="7.2" ry="13.6" fill="#fff" opacity="0.16"/><ellipse cx="43.5" cy="64.2" rx="4.7" ry="2.0" fill="#2a1410" opacity="0.5"/><ellipse cx="60.0" cy="64.2" rx="4.7" ry="2.0" fill="#2a1410" opacity="0.5"/><path d="M43.5 19.9 Q26.9 15.3 6.2 20.4" stroke="#24160e" stroke-width="4.0" fill="none" opacity="0.65" stroke-linecap="round"/><path d="M60.0 19.9 Q76.6 15.3 97.3 20.4" stroke="#24160e" stroke-width="4.0" fill="none" opacity="0.65" stroke-linecap="round"/><ellipse cx="25.9" cy="34.1" rx="15.5" ry="5.1" fill="#54382a" opacity="0.35"/><path d="M13.5 32.9 Q25.9 26.1 38.3 32.9 Q25.9 36.9 13.5 32.9 Z" fill="#140c0a" opacity="0.85"/><ellipse cx="77.6" cy="34.1" rx="15.5" ry="5.1" fill="#54382a" opacity="0.35"/><path d="M65.2 32.9 Q77.6 26.1 90.0 32.9 Q77.6 36.9 65.2 32.9 Z" fill="#140c0a" opacity="0.85"/><rect x="1.0" y="25.0" width="49.7" height="18.2" rx="8.0" fill="#000" fill-opacity="0.1" stroke="#383838" stroke-width="1.5"/><rect x="52.8" y="25.0" width="49.7" height="18.2" rx="8.0" fill="#000" fill-opacity="0.1" stroke="#383838" stroke-width="1.5"/><path d="M30.0 82.9 Q51.8 71.6 73.5 82.9 Q51.8 97.7 30.0 82.9 Z" fill="#9a5a50" opacity="0.9"/><path d="M31.0 82.9 Q51.8 81.6 72.4 82.9" stroke="#3a1512" stroke-width="1.8" fill="none" opacity="0.8"/></g></g>
<g transform="translate(61.8 242.6)"><g clip-path="url(#cld)"><rect x="0" y="0" width="103.5" height="113.6" fill="url(#skd)"/><rect x="0" y="0" width="103.5" height="9.1" fill="#54382a" opacity="0.25"/><path d="M103.5 79.5 Q93.2 107.9 82.8 113.6 L103.5 113.6 Z" fill="#1a1210"/><path d="M0 90.9 Q5.2 107.9 15.5 113.6 L0 113.6 Z" fill="#2a1c14" opacity="0.6"/><ellipse cx="22.8" cy="69.3" rx="20.7" ry="15.9" fill="#54382a" opacity="0.1"/><ellipse cx="80.7" cy="69.3" rx="20.7" ry="15.9" fill="#54382a" opacity="0.1"/><path d="M43.5 38.6 Q39.3 54.5 34.2 62.5 Q51.8 70.4 69.3 62.5 Q64.2 54.5 60.0 38.6 Z" fill="#54382a" opacity="0.2"/><ellipse cx="51.8" cy="55.7" rx="7.2" ry="13.6" fill="#fff" opacity="0.16"/><ellipse cx="43.5" cy="64.2" rx="4.7" ry="2.0" fill="#2a1410" opacity="0.5"/><ellipse cx="60.0" cy="64.2" rx="4.7" ry="2.0" fill="#2a1410" opacity="0.5"/><path d="M43.5 19.9 Q26.9 15.3 6.2 20.4" stroke="#24160e" stroke-width="4.0" fill="none" opacity="0.65" stroke-linecap="round"/><path d="M60.0 19.9 Q76.6 15.3 97.3 20.4" stroke="#24160e" stroke-width="4.0" fill="none" opacity="0.65" stroke-linecap="round"/><ellipse cx="25.9" cy="34.1" rx="15.5" ry="5.1" fill="#54382a" opacity="0.35"/><path d="M13.5 32.9 Q25.9 26.1 38.3 32.9 Q25.9 36.9 13.5 32.9 Z" fill="#140c0a" opacity="0.85"/><ellipse cx="77.6" cy="34.1" rx="15.5" ry="5.1" fill="#54382a" opacity="0.35"/><path d="M65.2 32.9 Q77.6 26.1 90.0 32.9 Q77.6 36.9 65.2 32.9 Z" fill="#140c0a" opacity="0.85"/><rect x="1.0" y="25.0" width="49.7" height="18.2" rx="8.0" fill="#000" fill-opacity="0.1" stroke="#383838" stroke-width="1.5"/><rect x="52.8" y="25.0" width="49.7" height="18.2" rx="8.0" fill="#000" fill-opacity="0.1" stroke="#383838" stroke-width="1.5"/><path d="M30.0 82.9 Q51.8 71.6 73.5 82.9 Q51.8 97.7 30.0 82.9 Z" fill="#9a5a50" opacity="0.9"/><path d="M31.0 82.9 Q51.8 81.6 72.4 82.9" stroke="#3a1512" stroke-width="1.8" fill="none" opacity="0.8"/></g></g>
<g transform="translate(65.3 246.2)"><g clip-path="url(#cld)"><rect x="0" y="0" width="103.5" height="113.6" fill="url(#skd)"/><rect x="0" y="0" width="103.5" height="9.1" fill="#54382a" opacity="0.25"/><path d="M103.5 79.5 Q93.2 107.9 82.8 113.6 L103.5 113.6 Z" fill="#1a1210"/><path d="M0 90.9 Q5.2 107.9 15.5 113.6 L0 113.6 Z" fill="#2a1c14" opacity="0.6"/><ellipse cx="22.8" cy="69.3" rx="20.7" ry="15.9" fill="#54382a" opacity="0.1"/><ellipse cx="80.7" cy="69.3" rx="20.7" ry="15.9" fill="#54382a" opacity="0.1"/><path d="M43.5 38.6 Q39.3 54.5 34.2 62.5 Q51.8 70.4 69.3 62.5 Q64.2 54.5 60.0 38.6 Z" fill="#54382a" opacity="0.2"/><ellipse cx="51.8" cy="55.7" rx="7.2" ry="13.6" fill="#fff" opacity="0.16"/><ellipse cx="43.5" cy="64.2" rx="4.7" ry="2.0" fill="#2a1410" opacity="0.5"/><ellipse cx="60.0" cy="64.2" rx="4.7" ry="2.0" fill="#2a1410" opacity="0.5"/><path d="M43.5 19.9 Q26.9 15.3 6.2 20.4" stroke="#24160e" stroke-width="4.0" fill="none" opacity="0.65" stroke-linecap="round"/><path d="M60.0 19.9 Q76.6 15.3 97.3 20.4" stroke="#24160e" stroke-width="4.0" fill="none" opacity="0.65" stroke-linecap="round"/><ellipse cx="25.9" cy="34.1" rx="15.5" ry="5.1" fill="#54382a" opacity="0.35"/><path d="M13.5 32.9 Q25.9 26.1 38.3 32.9 Q25.9 36.9 13.5 32.9 Z" fill="#140c0a" opacity="0.85"/><ellipse cx="77.6" cy="34.1" rx="15.5" ry="5.1" fill="#54382a" opacity="0.35"/><path d="M65.2 32.9 Q77.6 26.1 90.0 32.9 Q77.6 36.9 65.2 32.9 Z" fill="#140c0a" opacity="0.85"/><rect x="1.0" y="25.0" width="49.7" height="18.2" rx="8.0" fill="#000" fill-opacity="0.1" stroke="#383838" stroke-width="1.5"/><rect x="52.8" y="25.0" width="49.7" height="18.2" rx="8.0" fill="#000" fill-opacity="0.1" stroke="#383838" stroke-width="1.5"/><path d="M30.0 82.9 Q51.8 71.6 73.5 82.9 Q51.8 97.7 30.0 82.9 Z" fill="#9a5a50" opacity="0.9"/><path d="M31.0 82.9 Q51.8 81.6 72.4 82.9" stroke="#3a1512" stroke-width="1.8" fill="none" opacity="0.8"/></g></g>
<g transform="translate(68.9 249.9)"><g clip-path="url(#cld)"><rect x="0" y="0" width="103.5" height="113.6" fill="url(#skd)"/><rect x="0" y="0" width="103.5" height="9.1" fill="#54382a" opacity="0.25"/><path d="M103.5 79.5 Q93.2 107.9 82.8 113.6 L103.5 113.6 Z" fill="#1a1210"/><path d="M0 90.9 Q5.2 107.9 15.5 113.6 L0 113.6 Z" fill="#2a1c14" opacity="0.6"/><ellipse cx="22.8" cy="69.3" rx="20.7" ry="15.9" fill="#54382a" opacity="0.1"/><ellipse cx="80.7" cy="69.3" rx="20.7" ry="15.9" fill="#54382a" opacity="0.1"/><path d="M43.5 38.6 Q39.3 54.5 34.2 62.5 Q51.8 70.4 69.3 62.5 Q64.2 54.5 60.0 38.6 Z" fill="#54382a" opacity="0.2"/><ellipse cx="51.8" cy="55.7" rx="7.2" ry="13.6" fill="#fff" opacity="0.16"/><ellipse cx="43.5" cy="64.2" rx="4.7" ry="2.0" fill="#2a1410" opacity="0.5"/><ellipse cx="60.0" cy="64.2" rx="4.7" ry="2.0" fill="#2a1410" opacity="0.5"/><path d="M43.5 19.9 Q26.9 15.3 6.2 20.4" stroke="#24160e" stroke-width="4.0" fill="none" opacity="0.65" stroke-linecap="round"/><path d="M60.0 19.9 Q76.6 15.3 97.3 20.4" stroke="#24160e" stroke-width="4.0" fill="none" opacity="0.65" stroke-linecap="round"/><ellipse cx="25.9" cy="34.1" rx="15.5" ry="5.1" fill="#54382a" opacity="0.35"/><path d="M13.5 32.9 Q25.9 26.1 38.3 32.9 Q25.9 36.9 13.5 32.9 Z" fill="#140c0a" opacity="0.85"/><ellipse cx="77.6" cy="34.1" rx="15.5" ry="5.1" fill="#54382a" opacity="0.35"/><path d="M65.2 32.9 Q77.6 26.1 90.0 32.9 Q77.6 36.9 65.2 32.9 Z" fill="#140c0a" opacity="0.85"/><rect x="1.0" y="25.0" width="49.7" height="18.2" rx="8.0" fill="#000" fill-opacity="0.1" stroke="#383838" stroke-width="1.5"/><rect x="52.8" y="25.0" width="49.7" height="18.2" rx="8.0" fill="#000" fill-opacity="0.1" stroke="#383838" stroke-width="1.5"/><path d="M30.0 82.9 Q51.8 71.6 73.5 82.9 Q51.8 97.7 30.0 82.9 Z" fill="#9a5a50" opacity="0.9"/><path d="M31.0 82.9 Q51.8 81.6 72.4 82.9" stroke="#3a1512" stroke-width="1.8" fill="none" opacity="0.8"/></g></g>
<g transform="translate(72.4 253.5)"><g clip-path="url(#cld)"><rect x="0" y="0" width="103.5" height="113.6" fill="url(#skd)"/><rect x="0" y="0" width="103.5" height="9.1" fill="#54382a" opacity="0.25"/><path d="M103.5 79.5 Q93.2 107.9 82.8 113.6 L103.5 113.6 Z" fill="#1a1210"/><path d="M0 90.9 Q5.2 107.9 15.5 113.6 L0 113.6 Z" fill="#2a1c14" opacity="0.6"/><ellipse cx="22.8" cy="69.3" rx="20.7" ry="15.9" fill="#54382a" opacity="0.1"/><ellipse cx="80.7" cy="69.3" rx="20.7" ry="15.9" fill="#54382a" opacity="0.1"/><path d="M43.5 38.6 Q39.3 54.5 34.2 62.5 Q51.8 70.4 69.3 62.5 Q64.2 54.5 60.0 38.6 Z" fill="#54382a" opacity="0.2"/><ellipse cx="51.8" cy="55.7" rx="7.2" ry="13.6" fill="#fff" opacity="0.16"/><ellipse cx="43.5" cy="64.2" rx="4.7" ry="2.0" fill="#2a1410" opacity="0.5"/><ellipse cx="60.0" cy="64.2" rx="4.7" ry="2.0" fill="#2a1410" opacity="0.5"/><path d="M43.5 19.9 Q26.9 15.3 6.2 20.4" stroke="#24160e" stroke-width="4.0" fill="none" opacity="0.65" stroke-linecap="round"/><path d="M60.0 19.9 Q76.6 15.3 97.3 20.4" stroke="#24160e" stroke-width="4.0" fill="none" opacity="0.65" stroke-linecap="round"/><ellipse cx="25.9" cy="34.1" rx="15.5" ry="5.1" fill="#54382a" opacity="0.35"/><path d="M13.5 32.9 Q25.9 26.1 38.3 32.9 Q25.9 36.9 13.5 32.9 Z" fill="#140c0a" opacity="0.85"/><ellipse cx="77.6" cy="34.1" rx="15.5" ry="5.1" fill="#54382a" opacity="0.35"/><path d="M65.2 32.9 Q77.6 26.1 90.0 32.9 Q77.6 36.9 65.2 32.9 Z" fill="#140c0a" opacity="0.85"/><rect x="1.0" y="25.0" width="49.7" height="18.2" rx="8.0" fill="#000" fill-opacity="0.1" stroke="#383838" stroke-width="1.5"/><rect x="52.8" y="25.0" width="49.7" height="18.2" rx="8.0" fill="#000" fill-opacity="0.1" stroke="#383838" stroke-width="1.5"/><path d="M30.0 82.9 Q51.8 71.6 73.5 82.9 Q51.8 97.7 30.0 82.9 Z" fill="#9a5a50" opacity="0.9"/><path d="M31.0 82.9 Q51.8 81.6 72.4 82.9" stroke="#3a1512" stroke-width="1.8" fill="none" opacity="0.8"/></g></g>
<g transform="translate(199.0 239.0)"><g clip-path="url(#cle)"><rect x="0" y="0" width="92.3" height="109.1" fill="url(#ske)"/><rect x="0" y="0" width="92.3" height="8.7" fill="#a08070" opacity="0.25"/><ellipse cx="20.3" cy="63.3" rx="18.5" ry="15.3" fill="#a08070" opacity="0.1"/><ellipse cx="72.0" cy="63.3" rx="18.5" ry="15.3" fill="#a08070" opacity="0.1"/><path d="M38.8 32.7 Q35.1 49.1 30.5 56.7 Q46.2 64.4 61.8 56.7 Q57.2 49.1 53.5 32.7 Z" fill="#a08070" opacity="0.2"/><ellipse cx="46.2" cy="50.2" rx="6.5" ry="13.1" fill="#fff" opacity="0.16"/><ellipse cx="38.8" cy="58.4" rx="4.2" ry="2.0" fill="#2a1410" opacity="0.5"/><ellipse cx="53.5" cy="58.4" rx="4.2" ry="2.0" fill="#2a1410" opacity="0.5"/><path d="M38.8 12.5 Q24.0 8.2 5.5 13.1" stroke="#24160e" stroke-width="3.8" fill="none" opacity="0.65" stroke-linecap="round"/><path d="M53.5 12.5 Q68.3 8.2 86.8 13.1" stroke="#24160e" stroke-width="3.8" fill="none" opacity="0.65" stroke-linecap="round"/><ellipse cx="23.1" cy="28.4" rx="13.8" ry="4.9" fill="#a08070" opacity="0.35"/><path d="M12.0 27.3 Q23.1 20.7 34.2 27.3 Q23.1 31.1 12.0 27.3 Z" fill="#140c0a" opacity="0.85"/><ellipse cx="69.2" cy="28.4" rx="13.8" ry="4.9" fill="#a08070" opacity="0.35"/><path d="M58.1 27.3 Q69.2 20.7 80.3 27.3 Q69.2 31.1 58.1 27.3 Z" fill="#140c0a" opacity="0.85"/><path d="M26.8 78.6 Q46.2 67.6 65.5 78.6 Q46.2 92.7 26.8 78.6 Z" fill="#b07070" opacity="0.9"/><path d="M27.7 78.6 Q46.2 77.2 64.6 78.6" stroke="#3a1512" stroke-width="1.8" fill="none" opacity="0.8"/></g></g>
<g transform="translate(202.6 243.8)"><g clip-path="url(#cle)"><rect x="0" y="0" width="92.3" height="109.1" fill="url(#ske)"/><rect x="0" y="0" width="92.3" height="8.7" fill="#a08070" opacity="0.25"/><ellipse cx="20.3" cy="63.3" rx="18.5" ry="15.3" fill="#a08070" opacity="0.1"/><ellipse cx="72.0" cy="63.3" rx="18.5" ry="15.3" fill="#a08070" opacity="0.1"/><path d="M38.8 32.7 Q35.1 49.1 30.5 56.7 Q46.2 64.4 61.8 56.7 Q57.2 49.1 53.5 32.7 Z" fill="#a08070" opacity="0.2"/><ellipse cx="46.2" cy="50.2" rx="6.5" ry="13.1" fill="#fff" opacity="0.16"/><ellipse cx="38.8" cy="58.4" rx="4.2" ry="2.0" fill="#2a1410" opacity="0.5"/><ellipse cx="53.5" cy="58.4" rx="4.2" ry="2.0" fill="#2a1410" opacity="0.5"/><path d="M38.8 12.5 Q24.0 8.2 5.5 13.1" stroke="#24160e" stroke-width="3.8" fill="none" opacity="0.65" stroke-linecap="round"/><path d="M53.5 12.5 Q68.3 8.2 86.8 13.1" stroke="#24160e" stroke-width="3.8" fill="none" opacity="0.65" stroke-linecap="round"/><ellipse cx="23.1" cy="28.4" rx="13.8" ry="4.9" fill="#a08070" opacity="0.35"/><path d="M12.0 27.3 Q23.1 20.7 34.2 27.3 Q23.1 31.1 12.0 27.3 Z" fill="#140c0a" opacity="0.85"/><ellipse cx="69.2" cy="28.4" rx="13.8" ry="4.9" fill="#a08070" opacity="0.35"/><path d="M58.1 27.3 Q69.2 20.7 80.3 27.3 Q69.2 31.1 58.1 27.3 Z" fill="#140c0a" opacity="0.85"/><path d="M26.8 78.6 Q46.2 67.6 65.5 78.6 Q46.2 92.7 26.8 78.6 Z" fill="#b07070" opacity="0.9"/><path d="M27.7 78.6 Q46.2 77.2 64.6 78.6" stroke="#3a1512" stroke-width="1.8" fill="none" opacity="0.8"/></g></g>
<g transform="translate(206.2 248.5)"><g clip-path="url(#cle)"><rect x="0" y="0" width="92.3" height="109.1" fill="url(#ske)"/><rect x="0" y="0" width="92.3" height="8.7" fill="#a08070" opacity="0.25"/><ellipse cx="20.3" cy="63.3" rx="18.5" ry="15.3" fill="#a08070" opacity="0.1"/><ellipse cx="72.0" cy="63.3" rx="18.5" ry="15.3" fill="#a08070" opacity="0.1"/><path d="M38.8 32.7 Q35.1 49.1 30.5 56.7 Q46.2 64.4 61.8 56.7 Q57.2 49.1 53.5 32.7 Z" fill="#a08070" opacity="0.2"/><ellipse cx="46.2" cy="50.2" rx="6.5" ry="13.1" fill="#fff" opacity="0.16"/><ellipse cx="38.8" cy="58.4" rx="4.2" ry="2.0" fill="#2a1410" opacity="0.5"/><ellipse cx="53.5" cy="58.4" rx="4.2" ry="2.0" fill="#2a1410" opacity="0.5"/><path d="M38.8 12.5 Q24.0 8.2 5.5 13.1" stroke="#24160e" stroke-width="3.8" fill="none" opacity="0.65" stroke-linecap="round"/><path d="M53.5 12.5 Q68.3 8.2 86.8 13.1" stroke="#24160e" stroke-width="3.8" fill="none" opacity="0.65" stroke-linecap="round"/><ellipse cx="23.1" cy="28.4" rx="13.8" ry="4.9" fill="#a08070" opacity="0.35"/><path d="M12.0 27.3 Q23.1 20.7 34.2 27.3 Q23.1 31.1 12.0 27.3 Z" fill="#140c0a" opacity="0.85"/><ellipse cx="69.2" cy="28.4" rx="13.8" ry="4.9" fill="#a08070" opacity="0.35"/><path d="M58.1 27.3 Q69.2 20.7 80.3 27.3 Q69.2 31.1 58.1 27.3 Z" fill="#140c0a" opacity="0.85"/><path d="M26.8 78.6 Q46.2 67.6 65.5 78.6 Q46.2 92.7 26.8 78.6 Z" fill="#b07070" opacity="0.9"/><path d="M27.7 78.6 Q46.2 77.2 64.6 78.6" stroke="#3a1512" stroke-width="1.8" fill="none" opacity="0.8"/></g></g>
<g transform="translate(209.9 253.2)"><g clip-path="url(#cle)"><rect x="0" y="0" width="92.3" height="109.1" fill="url(#ske)"/><rect x="0" y="0" width="92.3" height="8.7" fill="#a08070" opacity="0.25"/><ellipse cx="20.3" cy="63.3" rx="18.5" ry="15.3" fill="#a08070" opacity="0.1"/><ellipse cx="72.0" cy="63.3" rx="18.5" ry="15.3" fill="#a08070" opacity="0.1"/><path d="M38.8 32.7 Q35.1 49.1 30.5 56.7 Q46.2 64.4 61.8 56.7 Q57.2 49.1 53.5 32.7 Z" fill="#a08070" opacity="0.2"/><ellipse cx="46.2" cy="50.2" rx="6.5" ry="13.1" fill="#fff" opacity="0.16"/><ellipse cx="38.8" cy="58.4" rx="4.2" ry="2.0" fill="#2a1410" opacity="0.5"/><ellipse cx="53.5" cy="58.4" rx="4.2" ry="2.0" fill="#2a1410" opacity="0.5"/><path d="M38.8 12.5 Q24.0 8.2 5.5 13.1" stroke="#24160e" stroke-width="3.8" fill="none" opacity="0.65" stroke-linecap="round"/><path d="M53.5 12.5 Q68.3 8.2 86.8 13.1" stroke="#24160e" stroke-width="3.8" fill="none" opacity="0.65" stroke-linecap="round"/><ellipse cx="23.1" cy="28.4" rx="13.8" ry="4.9" fill="#a08070" opacity="0.35"/><path d="M12.0 27.3 Q23.1 20.7 34.2 27.3 Q23.1 31.1 12.0 27.3 Z" fill="#140c0a" opacity="0.85"/><ellipse cx="69.2" cy="28.4" rx="13.8" ry="4.9" fill="#a08070" opacity="0.35"/><path d="M58.1 27.3 Q69.2 20.7 80.3 27.3 Q69.2 31.1 58.1 27.3 Z" fill="#140c0a" opacity="0.85"/><path d="M26.8 78.6 Q46.2 67.6 65.5 78.6 Q46.2 92.7 26.8 78.6 Z" fill="#b07070" opacity="0.9"/><path d="M27.7 78.6 Q46.2 77.2 64.6 78.6" stroke="#3a1512" stroke-width="1.8" fill="none" opacity="0.8"/></g></g>
<g transform="translate(213.5 258.0)"><g clip-path="url(#cle)"><rect x="0" y="0" width="92.3" height="109.1" fill="url(#ske)"/><rect x="0" y="0" width="92.3" height="8.7" fill="#a08070" opacity="0.25"/><ellipse cx="20.3" cy="63.3" rx="18.5" ry="15.3" fill="#a08070" opacity="0.1"/><ellipse cx="72.0" cy="63.3" rx="18.5" ry="15.3" fill="#a08070" opacity="0.1"/><path d="M38.8 32.7 Q35.1 49.1 30.5 56.7 Q46.2 64.4 61.8 56.7 Q57.2 49.1 53.5 32.7 Z" fill="#a08070" opacity="0.2"/><ellipse cx="46.2" cy="50.2" rx="6.5" ry="13.1" fill="#fff" opacity="0.16"/><ellipse cx="38.8" cy="58.4" rx="4.2" ry="2.0" fill="#2a1410" opacity="0.5"/><ellipse cx="53.5" cy="58.4" rx="4.2" ry="2.0" fill="#2a1410" opacity="0.5"/><path d="M38.8 12.5 Q24.0 8.2 5.5 13.1" stroke="#24160e" stroke-width="3.8" fill="none" opacity="0.65" stroke-linecap="round"/><path d="M53.5 12.5 Q68.3 8.2 86.8 13.1" stroke="#24160e" stroke-width="3.8" fill="none" opacity="0.65" stroke-linecap="round"/><ellipse cx="23.1" cy="28.4" rx="13.8" ry="4.9" fill="#a08070" opacity="0.35"/><path d="M12.0 27.3 Q23.1 20.7 34.2 27.3 Q23.1 31.1 12.0 27.3 Z" fill="#140c0a" opacity="0.85"/><ellipse cx="69.2" cy="28.4" rx="13.8" ry="4.9" fill="#a08070" opacity="0.35"/><path d="M58.1 27.3 Q69.2 20.7 80.3 27.3 Q69.2 31.1 58.1 27.3 Z" fill="#140c0a" opacity="0.85"/><path d="M26.8 78.6 Q46.2 67.6 65.5 78.6 Q46.2 92.7 26.8 78.6 Z" fill="#b07070" opacity="0.9"/><path d="M27.7 78.6 Q46.2 77.2 64.6 78.6" stroke="#3a1512" stroke-width="1.8" fill="none" opacity="0.8"/></g></g>
<g transform="translate(324.0 236.7)"><g clip-path="url(#clf)"><rect x="0" y="0" width="83.3" height="109.7" fill="url(#skf)"/><rect x="0" y="0" width="83.3" height="8.8" fill="#906854" opacity="0.25"/><path d="M0 57.0 Q10.0 93.2 26.7 109.7 L0 109.7 Z" fill="#242021"/><path d="M83.3 65.8 Q75.0 98.7 60.0 109.7 L83.3 109.7 Z" fill="#2a2422"/><ellipse cx="18.3" cy="65.8" rx="16.7" ry="15.4" fill="#906854" opacity="0.1"/><ellipse cx="65.0" cy="65.8" rx="16.7" ry="15.4" fill="#906854" opacity="0.1"/><path d="M35.0 35.1 Q31.7 51.6 27.5 59.2 Q41.6 66.9 55.8 59.2 Q51.6 51.6 48.3 35.1 Z" fill="#906854" opacity="0.2"/><ellipse cx="41.6" cy="52.7" rx="5.8" ry="13.2" fill="#fff" opacity="0.16"/><ellipse cx="35.0" cy="60.9" rx="3.7" ry="2.0" fill="#2a1410" opacity="0.5"/><ellipse cx="48.3" cy="60.9" rx="3.7" ry="2.0" fill="#2a1410" opacity="0.5"/><path d="M35.0 18.1 Q21.7 13.7 5.0 18.6" stroke="#24160e" stroke-width="3.8" fill="none" opacity="0.65" stroke-linecap="round"/><path d="M48.3 18.1 Q61.6 13.7 78.3 18.6" stroke="#24160e" stroke-width="3.8" fill="none" opacity="0.65" stroke-linecap="round"/><ellipse cx="20.8" cy="30.7" rx="12.5" ry="4.9" fill="#906854" opacity="0.35"/><path d="M10.8 29.6 Q20.8 23.0 30.8 29.6 Q20.8 33.5 10.8 29.6 Z" fill="#140c0a" opacity="0.85"/><ellipse cx="62.5" cy="30.7" rx="12.5" ry="4.9" fill="#906854" opacity="0.35"/><path d="M52.5 29.6 Q62.5 23.0 72.5 29.6 Q62.5 33.5 52.5 29.6 Z" fill="#140c0a" opacity="0.85"/><path d="M24.2 80.1 Q41.6 69.1 59.1 80.1 Q41.6 94.3 24.2 80.1 Z" fill="#b8685e" opacity="0.9"/><path d="M25.0 80.1 Q41.6 78.8 58.3 80.1" stroke="#3a1512" stroke-width="1.8" fill="none" opacity="0.8"/></g></g>
<g transform="translate(329.1 241.5)"><g clip-path="url(#clf)"><rect x="0" y="0" width="83.3" height="109.7" fill="url(#skf)"/><rect x="0" y="0" width="83.3" height="8.8" fill="#906854" opacity="0.25"/><path d="M0 57.0 Q10.0 93.2 26.7 109.7 L0 109.7 Z" fill="#242021"/><path d="M83.3 65.8 Q75.0 98.7 60.0 109.7 L83.3 109.7 Z" fill="#2a2422"/><ellipse cx="18.3" cy="65.8" rx="16.7" ry="15.4" fill="#906854" opacity="0.1"/><ellipse cx="65.0" cy="65.8" rx="16.7" ry="15.4" fill="#906854" opacity="0.1"/><path d="M35.0 35.1 Q31.7 51.6 27.5 59.2 Q41.6 66.9 55.8 59.2 Q51.6 51.6 48.3 35.1 Z" fill="#906854" opacity="0.2"/><ellipse cx="41.6" cy="52.7" rx="5.8" ry="13.2" fill="#fff" opacity="0.16"/><ellipse cx="35.0" cy="60.9" rx="3.7" ry="2.0" fill="#2a1410" opacity="0.5"/><ellipse cx="48.3" cy="60.9" rx="3.7" ry="2.0" fill="#2a1410" opacity="0.5"/><path d="M35.0 18.1 Q21.7 13.7 5.0 18.6" stroke="#24160e" stroke-width="3.8" fill="none" opacity="0.65" stroke-linecap="round"/><path d="M48.3 18.1 Q61.6 13.7 78.3 18.6" stroke="#24160e" stroke-width="3.8" fill="none" opacity="0.65" stroke-linecap="round"/><ellipse cx="20.8" cy="30.7" rx="12.5" ry="4.9" fill="#906854" opacity="0.35"/><path d="M10.8 29.6 Q20.8 23.0 30.8 29.6 Q20.8 33.5 10.8 29.6 Z" fill="#140c0a" opacity="0.85"/><ellipse cx="62.5" cy="30.7" rx="12.5" ry="4.9" fill="#906854" opacity="0.35"/><path d="M52.5 29.6 Q62.5 23.0 72.5 29.6 Q62.5 33.5 52.5 29.6 Z" fill="#140c0a" opacity="0.85"/><path d="M24.2 80.1 Q41.6 69.1 59.1 80.1 Q41.6 94.3 24.2 80.1 Z" fill="#b8685e" opacity="0.9"/><path d="M25.0 80.1 Q41.6 78.8 58.3 80.1" stroke="#3a1512" stroke-width="1.8" fill="none" opacity="0.8"/></g></g>
<g transform="translate(334.3 246.2)"><g clip-path="url(#clf)"><rect x="0" y="0" width="83.3" height="109.7" fill="url(#skf)"/><rect x="0" y="0" width="83.3" height="8.8" fill="#906854" opacity="0.25"/><path d="M0 57.0 Q10.0 93.2 26.7 109.7 L0 109.7 Z" fill="#242021"/><path d="M83.3 65.8 Q75.0 98.7 60.0 109.7 L83.3 109.7 Z" fill="#2a2422"/><ellipse cx="18.3" cy="65.8" rx="16.7" ry="15.4" fill="#906854" opacity="0.1"/><ellipse cx="65.0" cy="65.8" rx="16.7" ry="15.4" fill="#906854" opacity="0.1"/><path d="M35.0 35.1 Q31.7 51.6 27.5 59.2 Q41.6 66.9 55.8 59.2 Q51.6 51.6 48.3 35.1 Z" fill="#906854" opacity="0.2"/><ellipse cx="41.6" cy="52.7" rx="5.8" ry="13.2" fill="#fff" opacity="0.16"/><ellipse cx="35.0" cy="60.9" rx="3.7" ry="2.0" fill="#2a1410" opacity="0.5"/><ellipse cx="48.3" cy="60.9" rx="3.7" ry="2.0" fill="#2a1410" opacity="0.5"/><path d="M35.0 18.1 Q21.7 13.7 5.0 18.6" stroke="#24160e" stroke-width="3.8" fill="none" opacity="0.65" stroke-linecap="round"/><path d="M48.3 18.1 Q61.6 13.7 78.3 18.6" stroke="#24160e" stroke-width="3.8" fill="none" opacity="0.65" stroke-linecap="round"/><ellipse cx="20.8" cy="30.7" rx="12.5" ry="4.9" fill="#906854" opacity="0.35"/><path d="M10.8 29.6 Q20.8 23.0 30.8 29.6 Q20.8 33.5 10.8 29.6 Z" fill="#140c0a" opacity="0.85"/><ellipse cx="62.5" cy="30.7" rx="12.5" ry="4.9" fill="#906854" opacity="0.35"/><path d="M52.5 29.6 Q62.5 23.0 72.5 29.6 Q62.5 33.5 52.5 29.6 Z" fill="#140c0a" opacity="0.85"/><path d="M24.2 80.1 Q41.6 69.1 59.1 80.1 Q41.6 94.3 24.2 80.1 Z" fill="#b8685e" opacity="0.9"/><path d="M25.0 80.1 Q41.6 78.8 58.3 80.1" stroke="#3a1512" stroke-width="1.8" fill="none" opacity="0.8"/></g></g>
<g transform="translate(339.5 251.0)"><g clip-path="url(#clf)"><rect x="0" y="0" width="83.3" height="109.7" fill="url(#skf)"/><rect x="0" y="0" width="83.3" height="8.8" fill="#906854" opacity="0.25"/><path d="M0 57.0 Q10.0 93.2 26.7 109.7 L0 109.7 Z" fill="#242021"/><path d="M83.3 65.8 Q75.0 98.7 60.0 109.7 L83.3 109.7 Z" fill="#2a2422"/><ellipse cx="18.3" cy="65.8" rx="16.7" ry="15.4" fill="#906854" opacity="0.1"/><ellipse cx="65.0" cy="65.8" rx="16.7" ry="15.4" fill="#906854" opacity="0.1"/><path d="M35.0 35.1 Q31.7 51.6 27.5 59.2 Q41.6 66.9 55.8 59.2 Q51.6 51.6 48.3 35.1 Z" fill="#906854" opacity="0.2"/><ellipse cx="41.6" cy="52.7" rx="5.8" ry="13.2" fill="#fff" opacity="0.16"/><ellipse cx="35.0" cy="60.9" rx="3.7" ry="2.0" fill="#2a1410" opacity="0.5"/><ellipse cx="48.3" cy="60.9" rx="3.7" ry="2.0" fill="#2a1410" opacity="0.5"/><path d="M35.0 18.1 Q21.7 13.7 5.0 18.6" stroke="#24160e" stroke-width="3.8" fill="none" opacity="0.65" stroke-linecap="round"/><path d="M48.3 18.1 Q61.6 13.7 78.3 18.6" stroke="#24160e" stroke-width="3.8" fill="none" opacity="0.65" stroke-linecap="round"/><ellipse cx="20.8" cy="30.7" rx="12.5" ry="4.9" fill="#906854" opacity="0.35"/><path d="M10.8 29.6 Q20.8 23.0 30.8 29.6 Q20.8 33.5 10.8 29.6 Z" fill="#140c0a" opacity="0.85"/><ellipse cx="62.5" cy="30.7" rx="12.5" ry="4.9" fill="#906854" opacity="0.35"/><path d="M52.5 29.6 Q62.5 23.0 72.5 29.6 Q62.5 33.5 52.5 29.6 Z" fill="#140c0a" opacity="0.85"/><path d="M24.2 80.1 Q41.6 69.1 59.1 80.1 Q41.6 94.3 24.2 80.1 Z" fill="#b8685e" opacity="0.9"/><path d="M25.0 80.1 Q41.6 78.8 58.3 80.1" stroke="#3a1512" stroke-width="1.8" fill="none" opacity="0.8"/></g></g>
<g transform="translate(344.6 255.8)"><g clip-path="url(#clf)"><rect x="0" y="0" width="83.3" height="109.7" fill="url(#skf)"/><rect x="0" y="0" width="83.3" height="8.8" fill="#906854" opacity="0.25"/><path d="M0 57.0 Q10.0 93.2 26.7 109.7 L0 109.7 Z" fill="#242021"/><path d="M83.3 65.8 Q75.0 98.7 60.0 109.7 L83.3 109.7 Z" fill="#2a2422"/><ellipse cx="18.3" cy="65.8" rx="16.7" ry="15.4" fill="#906854" opacity="0.1"/><ellipse cx="65.0" cy="65.8" rx="16.7" ry="15.4" fill="#906854" opacity="0.1"/><path d="M35.0 35.1 Q31.7 51.6 27.5 59.2 Q41.6 66.9 55.8 59.2 Q51.6 51.6 48.3 35.1 Z" fill="#906854" opacity="0.2"/><ellipse cx="41.6" cy="52.7" rx="5.8" ry="13.2" fill="#fff" opacity="0.16"/><ellipse cx="35.0" cy="60.9" rx="3.7" ry="2.0" fill="#2a1410" opacity="0.5"/><ellipse cx="48.3" cy="60.9" rx="3.7" ry="2.0" fill="#2a1410" opacity="0.5"/><path d="M35.0 18.1 Q21.7 13.7 5.0 18.6" stroke="#24160e" stroke-width="3.8" fill="none" opacity="0.65" stroke-linecap="round"/><path d="M48.3 18.1 Q61.6 13.7 78.3 18.6" stroke="#24160e" stroke-width="3.8" fill="none" opacity="0.65" stroke-linecap="round"/><ellipse cx="20.8" cy="30.7" rx="12.5" ry="4.9" fill="#906854" opacity="0.35"/><path d="M10.8 29.6 Q20.8 23.0 30.8 29.6 Q20.8 33.5 10.8 29.6 Z" fill="#140c0a" opacity="0.85"/><ellipse cx="62.5" cy="30.7" rx="12.5" ry="4.9" fill="#906854" opacity="0.35"/><path d="M52.5 29.6 Q62.5 23.0 72.5 29.6 Q62.5 33.5 52.5 29.6 Z" fill="#140c0a" opacity="0.85"/><path d="M24.2 80.1 Q41.6 69.1 59.1 80.1 Q41.6 94.3 24.2 80.1 Z" fill="#b8685e" opacity="0.9"/><path d="M25.0 80.1 Q41.6 78.8 58.3 80.1" stroke="#3a1512" stroke-width="1.8" fill="none" opacity="0.8"/></g></g>
<g transform="translate(68.2 451.9)"><g clip-path="url(#clg)"><rect x="0" y="0" width="88.4" height="111.9" fill="url(#skg)"/><rect x="0" y="0" width="88.4" height="9.0" fill="#9a7060" opacity="0.25"/><path d="M0 76.1 Q13.3 100.7 37.1 111.9 L0 111.9 Z" fill="#a81818"/><path d="M88.4 82.8 Q76.0 105.2 53.0 111.9 L88.4 111.9 Z" fill="#a01616"/><ellipse cx="19.4" cy="67.1" rx="17.7" ry="15.7" fill="#9a7060" opacity="0.1"/><ellipse cx="69.0" cy="67.1" rx="17.7" ry="15.7" fill="#9a7060" opacity="0.1"/><path d="M37.1 36.9 Q33.6 52.6 29.2 60.4 Q44.2 68.3 59.2 60.4 Q54.8 52.6 51.3 36.9 Z" fill="#9a7060" opacity="0.2"/><ellipse cx="44.2" cy="53.7" rx="6.2" ry="13.4" fill="#fff" opacity="0.16"/><ellipse cx="37.1" cy="62.1" rx="4.0" ry="2.0" fill="#2a1410" opacity="0.5"/><ellipse cx="51.3" cy="62.1" rx="4.0" ry="2.0" fill="#2a1410" opacity="0.5"/><path d="M37.1 18.5 Q23.0 14.0 5.3 19.0" stroke="#24160e" stroke-width="3.9" fill="none" opacity="0.65" stroke-linecap="round"/><path d="M51.3 18.5 Q65.4 14.0 83.1 19.0" stroke="#24160e" stroke-width="3.9" fill="none" opacity="0.65" stroke-linecap="round"/><ellipse cx="22.1" cy="32.5" rx="13.3" ry="5.0" fill="#9a7060" opacity="0.35"/><path d="M11.5 31.3 Q22.1 24.6 32.7 31.3 Q22.1 35.2 11.5 31.3 Z" fill="#140c0a" opacity="0.85"/><ellipse cx="66.3" cy="32.5" rx="13.3" ry="5.0" fill="#9a7060" opacity="0.35"/><path d="M55.7 31.3 Q66.3 24.6 76.9 31.3 Q66.3 35.2 55.7 31.3 Z" fill="#140c0a" opacity="0.85"/><path d="M25.6 81.7 Q44.2 70.5 62.8 81.7 Q44.2 96.2 25.6 81.7 Z" fill="#b06a62" opacity="0.9"/><path d="M26.5 81.7 Q44.2 80.3 61.9 81.7" stroke="#3a1512" stroke-width="1.8" fill="none" opacity="0.8"/></g></g>
<g transform="translate(71.5 455.8)"><g clip-path="url(#clg)"><rect x="0" y="0" width="88.4" height="111.9" fill="url(#skg)"/><rect x="0" y="0" width="88.4" height="9.0" fill="#9a7060" opacity="0.25"/><path d="M0 76.1 Q13.3 100.7 37.1 111.9 L0 111.9 Z" fill="#a81818"/><path d="M88.4 82.8 Q76.0 105.2 53.0 111.9 L88.4 111.9 Z" fill="#a01616"/><ellipse cx="19.4" cy="67.1" rx="17.7" ry="15.7" fill="#9a7060" opacity="0.1"/><ellipse cx="69.0" cy="67.1" rx="17.7" ry="15.7" fill="#9a7060" opacity="0.1"/><path d="M37.1 36.9 Q33.6 52.6 29.2 60.4 Q44.2 68.3 59.2 60.4 Q54.8 52.6 51.3 36.9 Z" fill="#9a7060" opacity="0.2"/><ellipse cx="44.2" cy="53.7" rx="6.2" ry="13.4" fill="#fff" opacity="0.16"/><ellipse cx="37.1" cy="62.1" rx="4.0" ry="2.0" fill="#2a1410" opacity="0.5"/><ellipse cx="51.3" cy="62.1" rx="4.0" ry="2.0" fill="#2a1410" opacity="0.5"/><path d="M37.1 18.5 Q23.0 14.0 5.3 19.0" stroke="#24160e" stroke-width="3.9" fill="none" opacity="0.65" stroke-linecap="round"/><path d="M51.3 18.5 Q65.4 14.0 83.1 19.0" stroke="#24160e" stroke-width="3.9" fill="none" opacity="0.65" stroke-linecap="round"/><ellipse cx="22.1" cy="32.5" rx="13.3" ry="5.0" fill="#9a7060" opacity="0.35"/><path d="M11.5 31.3 Q22.1 24.6 32.7 31.3 Q22.1 35.2 11.5 31.3 Z" fill="#140c0a" opacity="0.85"/><ellipse cx="66.3" cy="32.5" rx="13.3" ry="5.0" fill="#9a7060" opacity="0.35"/><path d="M55.7 31.3 Q66.3 24.6 76.9 31.3 Q66.3 35.2 55.7 31.3 Z" fill="#140c0a" opacity="0.85"/><path d="M25.6 81.7 Q44.2 70.5 62.8 81.7 Q44.2 96.2 25.6 81.7 Z" fill="#b06a62" opacity="0.9"/><path d="M26.5 81.7 Q44.2 80.3 61.9 81.7" stroke="#3a1512" stroke-width="1.8" fill="none" opacity="0.8"/></g></g>
<g transform="translate(74.9 459.8)"><g clip-path="url(#clg)"><rect x="0" y="0" width="88.4" height="111.9" fill="url(#skg)"/><rect x="0" y="0" width="88.4" height="9.0" fill="#9a7060" opacity="0.25"/><path d="M0 76.1 Q13.3 100.7 37.1 111.9 L0 111.9 Z" fill="#a81818"/><path d="M88.4 82.8 Q76.0 105.2 53.0 111.9 L88.4 111.9 Z" fill="#a01616"/><ellipse cx="19.4" cy="67.1" rx="17.7" ry="15.7" fill="#9a7060" opacity="0.1"/><ellipse cx="69.0" cy="67.1" rx="17.7" ry="15.7" fill="#9a7060" opacity="0.1"/><path d="M37.1 36.9 Q33.6 52.6 29.2 60.4 Q44.2 68.3 59.2 60.4 Q54.8 52.6 51.3 36.9 Z" fill="#9a7060" opacity="0.2"/><ellipse cx="44.2" cy="53.7" rx="6.2" ry="13.4" fill="#fff" opacity="0.16"/><ellipse cx="37.1" cy="62.1" rx="4.0" ry="2.0" fill="#2a1410" opacity="0.5"/><ellipse cx="51.3" cy="62.1" rx="4.0" ry="2.0" fill="#2a1410" opacity="0.5"/><path d="M37.1 18.5 Q23.0 14.0 5.3 19.0" stroke="#24160e" stroke-width="3.9" fill="none" opacity="0.65" stroke-linecap="round"/><path d="M51.3 18.5 Q65.4 14.0 83.1 19.0" stroke="#24160e" stroke-width="3.9" fill="none" opacity="0.65" stroke-linecap="round"/><ellipse cx="22.1" cy="32.5" rx="13.3" ry="5.0" fill="#9a7060" opacity="0.35"/><path d="M11.5 31.3 Q22.1 24.6 32.7 31.3 Q22.1 35.2 11.5 31.3 Z" fill="#140c0a" opacity="0.85"/><ellipse cx="66.3" cy="32.5" rx="13.3" ry="5.0" fill="#9a7060" opacity="0.35"/><path d="M55.7 31.3 Q66.3 24.6 76.9 31.3 Q66.3 35.2 55.7 31.3 Z" fill="#140c0a" opacity="0.85"/><path d="M25.6 81.7 Q44.2 70.5 62.8 81.7 Q44.2 96.2 25.6 81.7 Z" fill="#b06a62" opacity="0.9"/><path d="M26.5 81.7 Q44.2 80.3 61.9 81.7" stroke="#3a1512" stroke-width="1.8" fill="none" opacity="0.8"/></g></g>
<g transform="translate(78.2 463.8)"><g clip-path="url(#clg)"><rect x="0" y="0" width="88.4" height="111.9" fill="url(#skg)"/><rect x="0" y="0" width="88.4" height="9.0" fill="#9a7060" opacity="0.25"/><path d="M0 76.1 Q13.3 100.7 37.1 111.9 L0 111.9 Z" fill="#a81818"/><path d="M88.4 82.8 Q76.0 105.2 53.0 111.9 L88.4 111.9 Z" fill="#a01616"/><ellipse cx="19.4" cy="67.1" rx="17.7" ry="15.7" fill="#9a7060" opacity="0.1"/><ellipse cx="69.0" cy="67.1" rx="17.7" ry="15.7" fill="#9a7060" opacity="0.1"/><path d="M37.1 36.9 Q33.6 52.6 29.2 60.4 Q44.2 68.3 59.2 60.4 Q54.8 52.6 51.3 36.9 Z" fill="#9a7060" opacity="0.2"/><ellipse cx="44.2" cy="53.7" rx="6.2" ry="13.4" fill="#fff" opacity="0.16"/><ellipse cx="37.1" cy="62.1" rx="4.0" ry="2.0" fill="#2a1410" opacity="0.5"/><ellipse cx="51.3" cy="62.1" rx="4.0" ry="2.0" fill="#2a1410" opacity="0.5"/><path d="M37.1 18.5 Q23.0 14.0 5.3 19.0" stroke="#24160e" stroke-width="3.9" fill="none" opacity="0.65" stroke-linecap="round"/><path d="M51.3 18.5 Q65.4 14.0 83.1 19.0" stroke="#24160e" stroke-width="3.9" fill="none" opacity="0.65" stroke-linecap="round"/><ellipse cx="22.1" cy="32.5" rx="13.3" ry="5.0" fill="#9a7060" opacity="0.35"/><path d="M11.5 31.3 Q22.1 24.6 32.7 31.3 Q22.1 35.2 11.5 31.3 Z" fill="#140c0a" opacity="0.85"/><ellipse cx="66.3" cy="32.5" rx="13.3" ry="5.0" fill="#9a7060" opacity="0.35"/><path d="M55.7 31.3 Q66.3 24.6 76.9 31.3 Q66.3 35.2 55.7 31.3 Z" fill="#140c0a" opacity="0.85"/><path d="M25.6 81.7 Q44.2 70.5 62.8 81.7 Q44.2 96.2 25.6 81.7 Z" fill="#b06a62" opacity="0.9"/><path d="M26.5 81.7 Q44.2 80.3 61.9 81.7" stroke="#3a1512" stroke-width="1.8" fill="none" opacity="0.8"/></g></g>
<g transform="translate(81.6 467.7)"><g clip-path="url(#clg)"><rect x="0" y="0" width="88.4" height="111.9" fill="url(#skg)"/><rect x="0" y="0" width="88.4" height="9.0" fill="#9a7060" opacity="0.25"/><path d="M0 76.1 Q13.3 100.7 37.1 111.9 L0 111.9 Z" fill="#a81818"/><path d="M88.4 82.8 Q76.0 105.2 53.0 111.9 L88.4 111.9 Z" fill="#a01616"/><ellipse cx="19.4" cy="67.1" rx="17.7" ry="15.7" fill="#9a7060" opacity="0.1"/><ellipse cx="69.0" cy="67.1" rx="17.7" ry="15.7" fill="#9a7060" opacity="0.1"/><path d="M37.1 36.9 Q33.6 52.6 29.2 60.4 Q44.2 68.3 59.2 60.4 Q54.8 52.6 51.3 36.9 Z" fill="#9a7060" opacity="0.2"/><ellipse cx="44.2" cy="53.7" rx="6.2" ry="13.4" fill="#fff" opacity="0.16"/><ellipse cx="37.1" cy="62.1" rx="4.0" ry="2.0" fill="#2a1410" opacity="0.5"/><ellipse cx="51.3" cy="62.1" rx="4.0" ry="2.0" fill="#2a1410" opacity="0.5"/><path d="M37.1 18.5 Q23.0 14.0 5.3 19.0" stroke="#24160e" stroke-width="3.9" fill="none" opacity="0.65" stroke-linecap="round"/><path d="M51.3 18.5 Q65.4 14.0 83.1 19.0" stroke="#24160e" stroke-width="3.9" fill="none" opacity="0.65" stroke-linecap="round"/><ellipse cx="22.1" cy="32.5" rx="13.3" ry="5.0" fill="#9a7060" opacity="0.35"/><path d="M11.5 31.3 Q22.1 24.6 32.7 31.3 Q22.1 35.2 11.5 31.3 Z" fill="#140c0a" opacity="0.85"/><ellipse cx="66.3" cy="32.5" rx="13.3" ry="5.0" fill="#9a7060" opacity="0.35"/><path d="M55.7 31.3 Q66.3 24.6 76.9 31.3 Q66.3 35.2 55.7 31.3 Z" fill="#140c0a" opacity="0.85"/><path d="M25.6 81.7 Q44.2 70.5 62.8 81.7 Q44.2 96.2 25.6 81.7 Z" fill="#b06a62" opacity="0.9"/><path d="M26.5 81.7 Q44.2 80.3 61.9 81.7" stroke="#3a1512" stroke-width="1.8" fill="none" opacity="0.8"/></g></g>
<g transform="translate(200.3 451.9)"><g clip-path="url(#clh)"><rect x="0" y="0" width="92.7" height="114.0" fill="url(#skh)"/><rect x="0" y="0" width="92.7" height="9.1" fill="#7e5640" opacity="0.25"/><path d="M0 82.1 Q11.1 104.9 23.2 114.0 L0 114.0 Z" fill="#d8c4c4"/><path d="M92.7 79.8 Q83.4 108.3 69.5 114.0 L92.7 114.0 Z" fill="#e0d0d0"/><path d="M20.4 114.0 Q46.3 95.8 78.8 114.0 L20.4 114.0 Z" fill="#3a2418" opacity="0.85"/><ellipse cx="20.4" cy="67.3" rx="18.5" ry="16.0" fill="#7e5640" opacity="0.1"/><ellipse cx="72.3" cy="67.3" rx="18.5" ry="16.0" fill="#7e5640" opacity="0.1"/><path d="M38.9 36.5 Q35.2 52.4 30.6 60.4 Q46.3 68.4 62.1 60.4 Q57.5 52.4 53.8 36.5 Z" fill="#7e5640" opacity="0.2"/><ellipse cx="46.3" cy="53.6" rx="6.5" ry="13.7" fill="#fff" opacity="0.16"/><ellipse cx="38.9" cy="62.1" rx="4.2" ry="2.1" fill="#2a1410" opacity="0.5"/><ellipse cx="53.8" cy="62.1" rx="4.2" ry="2.1" fill="#2a1410" opacity="0.5"/><path d="M38.9 15.4 Q24.1 10.8 5.6 16.0" stroke="#24160e" stroke-width="4.0" fill="none" opacity="0.65" stroke-linecap="round"/><path d="M53.8 15.4 Q68.6 10.8 87.1 16.0" stroke="#24160e" stroke-width="4.0" fill="none" opacity="0.65" stroke-linecap="round"/><ellipse cx="23.2" cy="31.9" rx="13.9" ry="5.1" fill="#7e5640" opacity="0.35"/><path d="M12.1 30.8 Q23.2 23.9 34.3 30.8 Q23.2 34.8 12.1 30.8 Z" fill="#140c0a" opacity="0.85"/><ellipse cx="69.5" cy="31.9" rx="13.9" ry="5.1" fill="#7e5640" opacity="0.35"/><path d="M58.4 30.8 Q69.5 23.9 80.6 30.8 Q69.5 34.8 58.4 30.8 Z" fill="#140c0a" opacity="0.85"/><path d="M26.9 82.1 Q46.3 70.7 65.8 82.1 Q46.3 96.9 26.9 82.1 Z" fill="#a86058" opacity="0.9"/><path d="M27.8 82.1 Q46.3 80.7 64.9 82.1" stroke="#3a1512" stroke-width="1.8" fill="none" opacity="0.8"/></g></g>
<g transform="translate(203.1 455.3)"><g clip-path="url(#clh)"><rect x="0" y="0" width="92.7" height="114.0" fill="url(#skh)"/><rect x="0" y="0" width="92.7" height="9.1" fill="#7e5640" opacity="0.25"/><path d="M0 82.1 Q11.1 104.9 23.2 114.0 L0 114.0 Z" fill="#d8c4c4"/><path d="M92.7 79.8 Q83.4 108.3 69.5 114.0 L92.7 114.0 Z" fill="#e0d0d0"/><path d="M20.4 114.0 Q46.3 95.8 78.8 114.0 L20.4 114.0 Z" fill="#3a2418" opacity="0.85"/><ellipse cx="20.4" cy="67.3" rx="18.5" ry="16.0" fill="#7e5640" opacity="0.1"/><ellipse cx="72.3" cy="67.3" rx="18.5" ry="16.0" fill="#7e5640" opacity="0.1"/><path d="M38.9 36.5 Q35.2 52.4 30.6 60.4 Q46.3 68.4 62.1 60.4 Q57.5 52.4 53.8 36.5 Z" fill="#7e5640" opacity="0.2"/><ellipse cx="46.3" cy="53.6" rx="6.5" ry="13.7" fill="#fff" opacity="0.16"/><ellipse cx="38.9" cy="62.1" rx="4.2" ry="2.1" fill="#2a1410" opacity="0.5"/><ellipse cx="53.8" cy="62.1" rx="4.2" ry="2.1" fill="#2a1410" opacity="0.5"/><path d="M38.9 15.4 Q24.1 10.8 5.6 16.0" stroke="#24160e" stroke-width="4.0" fill="none" opacity="0.65" stroke-linecap="round"/><path d="M53.8 15.4 Q68.6 10.8 87.1 16.0" stroke="#24160e" stroke-width="4.0" fill="none" opacity="0.65" stroke-linecap="round"/><ellipse cx="23.2" cy="31.9" rx="13.9" ry="5.1" fill="#7e5640" opacity="0.35"/><path d="M12.1 30.8 Q23.2 23.9 34.3 30.8 Q23.2 34.8 12.1 30.8 Z" fill="#140c0a" opacity="0.85"/><ellipse cx="69.5" cy="31.9" rx="13.9" ry="5.1" fill="#7e5640" opacity="0.35"/><path d="M58.4 30.8 Q69.5 23.9 80.6 30.8 Q69.5 34.8 58.4 30.8 Z" fill="#140c0a" opacity="0.85"/><path d="M26.9 82.1 Q46.3 70.7 65.8 82.1 Q46.3 96.9 26.9 82.1 Z" fill="#a86058" opacity="0.9"/><path d="M27.8 82.1 Q46.3 80.7 64.9 82.1" stroke="#3a1512" stroke-width="1.8" fill="none" opacity="0.8"/></g></g>
<g transform="translate(205.9 458.8)"><g clip-path="url(#clh)"><rect x="0" y="0" width="92.7" height="114.0" fill="url(#skh)"/><rect x="0" y="0" width="92.7" height="9.1" fill="#7e5640" opacity="0.25"/><path d="M0 82.1 Q11.1 104.9 23.2 114.0 L0 114.0 Z" fill="#d8c4c4"/><path d="M92.7 79.8 Q83.4 108.3 69.5 114.0 L92.7 114.0 Z" fill="#e0d0d0"/><path d="M20.4 114.0 Q46.3 95.8 78.8 114.0 L20.4 114.0 Z" fill="#3a2418" opacity="0.85"/><ellipse cx="20.4" cy="67.3" rx="18.5" ry="16.0" fill="#7e5640" opacity="0.1"/><ellipse cx="72.3" cy="67.3" rx="18.5" ry="16.0" fill="#7e5640" opacity="0.1"/><path d="M38.9 36.5 Q35.2 52.4 30.6 60.4 Q46.3 68.4 62.1 60.4 Q57.5 52.4 53.8 36.5 Z" fill="#7e5640" opacity="0.2"/><ellipse cx="46.3" cy="53.6" rx="6.5" ry="13.7" fill="#fff" opacity="0.16"/><ellipse cx="38.9" cy="62.1" rx="4.2" ry="2.1" fill="#2a1410" opacity="0.5"/><ellipse cx="53.8" cy="62.1" rx="4.2" ry="2.1" fill="#2a1410" opacity="0.5"/><path d="M38.9 15.4 Q24.1 10.8 5.6 16.0" stroke="#24160e" stroke-width="4.0" fill="none" opacity="0.65" stroke-linecap="round"/><path d="M53.8 15.4 Q68.6 10.8 87.1 16.0" stroke="#24160e" stroke-width="4.0" fill="none" opacity="0.65" stroke-linecap="round"/><ellipse cx="23.2" cy="31.9" rx="13.9" ry="5.1" fill="#7e5640" opacity="0.35"/><path d="M12.1 30.8 Q23.2 23.9 34.3 30.8 Q23.2 34.8 12.1 30.8 Z" fill="#140c0a" opacity="0.85"/><ellipse cx="69.5" cy="31.9" rx="13.9" ry="5.1" fill="#7e5640" opacity="0.35"/><path d="M58.4 30.8 Q69.5 23.9 80.6 30.8 Q69.5 34.8 58.4 30.8 Z" fill="#140c0a" opacity="0.85"/><path d="M26.9 82.1 Q46.3 70.7 65.8 82.1 Q46.3 96.9 26.9 82.1 Z" fill="#a86058" opacity="0.9"/><path d="M27.8 82.1 Q46.3 80.7 64.9 82.1" stroke="#3a1512" stroke-width="1.8" fill="none" opacity="0.8"/></g></g>
<g transform="translate(208.7 462.2)"><g clip-path="url(#clh)"><rect x="0" y="0" width="92.7" height="114.0" fill="url(#skh)"/><rect x="0" y="0" width="92.7" height="9.1" fill="#7e5640" opacity="0.25"/><path d="M0 82.1 Q11.1 104.9 23.2 114.0 L0 114.0 Z" fill="#d8c4c4"/><path d="M92.7 79.8 Q83.4 108.3 69.5 114.0 L92.7 114.0 Z" fill="#e0d0d0"/><path d="M20.4 114.0 Q46.3 95.8 78.8 114.0 L20.4 114.0 Z" fill="#3a2418" opacity="0.85"/><ellipse cx="20.4" cy="67.3" rx="18.5" ry="16.0" fill="#7e5640" opacity="0.1"/><ellipse cx="72.3" cy="67.3" rx="18.5" ry="16.0" fill="#7e5640" opacity="0.1"/><path d="M38.9 36.5 Q35.2 52.4 30.6 60.4 Q46.3 68.4 62.1 60.4 Q57.5 52.4 53.8 36.5 Z" fill="#7e5640" opacity="0.2"/><ellipse cx="46.3" cy="53.6" rx="6.5" ry="13.7" fill="#fff" opacity="0.16"/><ellipse cx="38.9" cy="62.1" rx="4.2" ry="2.1" fill="#2a1410" opacity="0.5"/><ellipse cx="53.8" cy="62.1" rx="4.2" ry="2.1" fill="#2a1410" opacity="0.5"/><path d="M38.9 15.4 Q24.1 10.8 5.6 16.0" stroke="#24160e" stroke-width="4.0" fill="none" opacity="0.65" stroke-linecap="round"/><path d="M53.8 15.4 Q68.6 10.8 87.1 16.0" stroke="#24160e" stroke-width="4.0" fill="none" opacity="0.65" stroke-linecap="round"/><ellipse cx="23.2" cy="31.9" rx="13.9" ry="5.1" fill="#7e5640" opacity="0.35"/><path d="M12.1 30.8 Q23.2 23.9 34.3 30.8 Q23.2 34.8 12.1 30.8 Z" fill="#140c0a" opacity="0.85"/><ellipse cx="69.5" cy="31.9" rx="13.9" ry="5.1" fill="#7e5640" opacity="0.35"/><path d="M58.4 30.8 Q69.5 23.9 80.6 30.8 Q69.5 34.8 58.4 30.8 Z" fill="#140c0a" opacity="0.85"/><path d="M26.9 82.1 Q46.3 70.7 65.8 82.1 Q46.3 96.9 26.9 82.1 Z" fill="#a86058" opacity="0.9"/><path d="M27.8 82.1 Q46.3 80.7 64.9 82.1" stroke="#3a1512" stroke-width="1.8" fill="none" opacity="0.8"/></g></g>
<g transform="translate(211.5 465.6)"><g clip-path="url(#clh)"><rect x="0" y="0" width="92.7" height="114.0" fill="url(#skh)"/><rect x="0" y="0" width="92.7" height="9.1" fill="#7e5640" opacity="0.25"/><path d="M0 82.1 Q11.1 104.9 23.2 114.0 L0 114.0 Z" fill="#d8c4c4"/><path d="M92.7 79.8 Q83.4 108.3 69.5 114.0 L92.7 114.0 Z" fill="#e0d0d0"/><path d="M20.4 114.0 Q46.3 95.8 78.8 114.0 L20.4 114.0 Z" fill="#3a2418" opacity="0.85"/><ellipse cx="20.4" cy="67.3" rx="18.5" ry="16.0" fill="#7e5640" opacity="0.1"/><ellipse cx="72.3" cy="67.3" rx="18.5" ry="16.0" fill="#7e5640" opacity="0.1"/><path d="M38.9 36.5 Q35.2 52.4 30.6 60.4 Q46.3 68.4 62.1 60.4 Q57.5 52.4 53.8 36.5 Z" fill="#7e5640" opacity="0.2"/><ellipse cx="46.3" cy="53.6" rx="6.5" ry="13.7" fill="#fff" opacity="0.16"/><ellipse cx="38.9" cy="62.1" rx="4.2" ry="2.1" fill="#2a1410" opacity="0.5"/><ellipse cx="53.8" cy="62.1" rx="4.2" ry="2.1" fill="#2a1410" opacity="0.5"/><path d="M38.9 15.4 Q24.1 10.8 5.6 16.0" stroke="#24160e" stroke-width="4.0" fill="none" opacity="0.65" stroke-linecap="round"/><path d="M53.8 15.4 Q68.6 10.8 87.1 16.0" stroke="#24160e" stroke-width="4.0" fill="none" opacity="0.65" stroke-linecap="round"/><ellipse cx="23.2" cy="31.9" rx="13.9" ry="5.1" fill="#7e5640" opacity="0.35"/><path d="M12.1 30.8 Q23.2 23.9 34.3 30.8 Q23.2 34.8 12.1 30.8 Z" fill="#140c0a" opacity="0.85"/><ellipse cx="69.5" cy="31.9" rx="13.9" ry="5.1" fill="#7e5640" opacity="0.35"/><path d="M58.4 30.8 Q69.5 23.9 80.6 30.8 Q69.5 34.8 58.4 30.8 Z" fill="#140c0a" opacity="0.85"/><path d="M26.9 82.1 Q46.3 70.7 65.8 82.1 Q46.3 96.9 26.9 82.1 Z" fill="#a86058" opacity="0.9"/><path d="M27.8 82.1 Q46.3 80.7 64.9 82.1" stroke="#3a1512" stroke-width="1.8" fill="none" opacity="0.8"/></g></g>
<g transform="translate(323.0 451.9)"><g clip-path="url(#cli)"><rect x="0" y="0" width="91.6" height="111.9" fill="url(#ski)"/><rect x="0" y="0" width="91.6" height="9.0" fill="#8e6850" opacity="0.25"/><path d="M0 85.0 Q5.5 105.2 13.7 111.9 L0 111.9 Z" fill="#120c0a"/><path d="M91.6 91.8 Q84.3 107.4 75.1 111.9 L91.6 111.9 Z" fill="#2a1a14"/><ellipse cx="20.2" cy="64.9" rx="18.3" ry="15.7" fill="#8e6850" opacity="0.1"/><ellipse cx="71.4" cy="64.9" rx="18.3" ry="15.7" fill="#8e6850" opacity="0.1"/><path d="M38.5 34.7 Q34.8 50.4 30.2 58.2 Q45.8 66.0 61.4 58.2 Q56.8 50.4 53.1 34.7 Z" fill="#8e6850" opacity="0.2"/><ellipse cx="45.8" cy="51.5" rx="6.4" ry="13.4" fill="#fff" opacity="0.16"/><ellipse cx="38.5" cy="59.9" rx="4.1" ry="2.0" fill="#2a1410" opacity="0.5"/><ellipse cx="53.1" cy="59.9" rx="4.1" ry="2.0" fill="#2a1410" opacity="0.5"/><path d="M38.5 15.1 Q23.8 10.6 5.5 15.7" stroke="#24160e" stroke-width="3.9" fill="none" opacity="0.65" stroke-linecap="round"/><path d="M53.1 15.1 Q67.8 10.6 86.1 15.7" stroke="#24160e" stroke-width="3.9" fill="none" opacity="0.65" stroke-linecap="round"/><ellipse cx="22.9" cy="30.2" rx="13.7" ry="5.0" fill="#8e6850" opacity="0.35"/><path d="M11.9 29.1 Q22.9 22.4 33.9 29.1 Q22.9 33.0 11.9 29.1 Z" fill="#140c0a" opacity="0.85"/><ellipse cx="68.7" cy="30.2" rx="13.7" ry="5.0" fill="#8e6850" opacity="0.35"/><path d="M57.7 29.1 Q68.7 22.4 79.7 29.1 Q68.7 33.0 57.7 29.1 Z" fill="#140c0a" opacity="0.85"/><path d="M26.6 80.6 Q45.8 69.4 65.0 80.6 Q45.8 95.1 26.6 80.6 Z" fill="#b87068" opacity="0.9"/><path d="M27.5 80.6 Q45.8 79.2 64.1 80.6" stroke="#3a1512" stroke-width="1.8" fill="none" opacity="0.8"/></g></g>
<g transform="translate(326.8 455.3)"><g clip-path="url(#cli)"><rect x="0" y="0" width="91.6" height="111.9" fill="url(#ski)"/><rect x="0" y="0" width="91.6" height="9.0" fill="#8e6850" opacity="0.25"/><path d="M0 85.0 Q5.5 105.2 13.7 111.9 L0 111.9 Z" fill="#120c0a"/><path d="M91.6 91.8 Q84.3 107.4 75.1 111.9 L91.6 111.9 Z" fill="#2a1a14"/><ellipse cx="20.2" cy="64.9" rx="18.3" ry="15.7" fill="#8e6850" opacity="0.1"/><ellipse cx="71.4" cy="64.9" rx="18.3" ry="15.7" fill="#8e6850" opacity="0.1"/><path d="M38.5 34.7 Q34.8 50.4 30.2 58.2 Q45.8 66.0 61.4 58.2 Q56.8 50.4 53.1 34.7 Z" fill="#8e6850" opacity="0.2"/><ellipse cx="45.8" cy="51.5" rx="6.4" ry="13.4" fill="#fff" opacity="0.16"/><ellipse cx="38.5" cy="59.9" rx="4.1" ry="2.0" fill="#2a1410" opacity="0.5"/><ellipse cx="53.1" cy="59.9" rx="4.1" ry="2.0" fill="#2a1410" opacity="0.5"/><path d="M38.5 15.1 Q23.8 10.6 5.5 15.7" stroke="#24160e" stroke-width="3.9" fill="none" opacity="0.65" stroke-linecap="round"/><path d="M53.1 15.1 Q67.8 10.6 86.1 15.7" stroke="#24160e" stroke-width="3.9" fill="none" opacity="0.65" stroke-linecap="round"/><ellipse cx="22.9" cy="30.2" rx="13.7" ry="5.0" fill="#8e6850" opacity="0.35"/><path d="M11.9 29.1 Q22.9 22.4 33.9 29.1 Q22.9 33.0 11.9 29.1 Z" fill="#140c0a" opacity="0.85"/><ellipse cx="68.7" cy="30.2" rx="13.7" ry="5.0" fill="#8e6850" opacity="0.35"/><path d="M57.7 29.1 Q68.7 22.4 79.7 29.1 Q68.7 33.0 57.7 29.1 Z" fill="#140c0a" opacity="0.85"/><path d="M26.6 80.6 Q45.8 69.4 65.0 80.6 Q45.8 95.1 26.6 80.6 Z" fill="#b87068" opacity="0.9"/><path d="M27.5 80.6 Q45.8 79.2 64.1 80.6" stroke="#3a1512" stroke-width="1.8" fill="none" opacity="0.8"/></g></g>
<g transform="translate(330.6 458.8)"><g clip-path="url(#cli)"><rect x="0" y="0" width="91.6" height="111.9" fill="url(#ski)"/><rect x="0" y="0" width="91.6" height="9.0" fill="#8e6850" opacity="0.25"/><path d="M0 85.0 Q5.5 105.2 13.7 111.9 L0 111.9 Z" fill="#120c0a"/><path d="M91.6 91.8 Q84.3 107.4 75.1 111.9 L91.6 111.9 Z" fill="#2a1a14"/><ellipse cx="20.2" cy="64.9" rx="18.3" ry="15.7" fill="#8e6850" opacity="0.1"/><ellipse cx="71.4" cy="64.9" rx="18.3" ry="15.7" fill="#8e6850" opacity="0.1"/><path d="M38.5 34.7 Q34.8 50.4 30.2 58.2 Q45.8 66.0 61.4 58.2 Q56.8 50.4 53.1 34.7 Z" fill="#8e6850" opacity="0.2"/><ellipse cx="45.8" cy="51.5" rx="6.4" ry="13.4" fill="#fff" opacity="0.16"/><ellipse cx="38.5" cy="59.9" rx="4.1" ry="2.0" fill="#2a1410" opacity="0.5"/><ellipse cx="53.1" cy="59.9" rx="4.1" ry="2.0" fill="#2a1410" opacity="0.5"/><path d="M38.5 15.1 Q23.8 10.6 5.5 15.7" stroke="#24160e" stroke-width="3.9" fill="none" opacity="0.65" stroke-linecap="round"/><path d="M53.1 15.1 Q67.8 10.6 86.1 15.7" stroke="#24160e" stroke-width="3.9" fill="none" opacity="0.65" stroke-linecap="round"/><ellipse cx="22.9" cy="30.2" rx="13.7" ry="5.0" fill="#8e6850" opacity="0.35"/><path d="M11.9 29.1 Q22.9 22.4 33.9 29.1 Q22.9 33.0 11.9 29.1 Z" fill="#140c0a" opacity="0.85"/><ellipse cx="68.7" cy="30.2" rx="13.7" ry="5.0" fill="#8e6850" opacity="0.35"/><path d="M57.7 29.1 Q68.7 22.4 79.7 29.1 Q68.7 33.0 57.7 29.1 Z" fill="#140c0a" opacity="0.85"/><path d="M26.6 80.6 Q45.8 69.4 65.0 80.6 Q45.8 95.1 26.6 80.6 Z" fill="#b87068" opacity="0.9"/><path d="M27.5 80.6 Q45.8 79.2 64.1 80.6" stroke="#3a1512" stroke-width="1.8" fill="none" opacity="0.8"/></g></g>
<g transform="translate(334.3 462.2)"><g clip-path="url(#cli)"><rect x="0" y="0" width="91.6" height="111.9" fill="url(#ski)"/><rect x="0" y="0" width="91.6" height="9.0" fill="#8e6850" opacity="0.25"/><path d="M0 85.0 Q5.5 105.2 13.7 111.9 L0 111.9 Z" fill="#120c0a"/><path d="M91.6 91.8 Q84.3 107.4 75.1 111.9 L91.6 111.9 Z" fill="#2a1a14"/><ellipse cx="20.2" cy="64.9" rx="18.3" ry="15.7" fill="#8e6850" opacity="0.1"/><ellipse cx="71.4" cy="64.9" rx="18.3" ry="15.7" fill="#8e6850" opacity="0.1"/><path d="M38.5 34.7 Q34.8 50.4 30.2 58.2 Q45.8 66.0 61.4 58.2 Q56.8 50.4 53.1 34.7 Z" fill="#8e6850" opacity="0.2"/><ellipse cx="45.8" cy="51.5" rx="6.4" ry="13.4" fill="#fff" opacity="0.16"/><ellipse cx="38.5" cy="59.9" rx="4.1" ry="2.0" fill="#2a1410" opacity="0.5"/><ellipse cx="53.1" cy="59.9" rx="4.1" ry="2.0" fill="#2a1410" opacity="0.5"/><path d="M38.5 15.1 Q23.8 10.6 5.5 15.7" stroke="#24160e" stroke-width="3.9" fill="none" opacity="0.65" stroke-linecap="round"/><path d="M53.1 15.1 Q67.8 10.6 86.1 15.7" stroke="#24160e" stroke-width="3.9" fill="none" opacity="0.65" stroke-linecap="round"/><ellipse cx="22.9" cy="30.2" rx="13.7" ry="5.0" fill="#8e6850" opacity="0.35"/><path d="M11.9 29.1 Q22.9 22.4 33.9 29.1 Q22.9 33.0 11.9 29.1 Z" fill="#140c0a" opacity="0.85"/><ellipse cx="68.7" cy="30.2" rx="13.7" ry="5.0" fill="#8e6850" opacity="0.35"/><path d="M57.7 29.1 Q68.7 22.4 79.7 29.1 Q68.7 33.0 57.7 29.1 Z" fill="#140c0a" opacity="0.85"/><path d="M26.6 80.6 Q45.8 69.4 65.0 80.6 Q45.8 95.1 26.6 80.6 Z" fill="#b87068" opacity="0.9"/><path d="M27.5 80.6 Q45.8 79.2 64.1 80.6" stroke="#3a1512" stroke-width="1.8" fill="none" opacity="0.8"/></g></g>
<g transform="translate(338.1 465.6)"><g clip-path="url(#cli)"><rect x="0" y="0" width="91.6" height="111.9" fill="url(#ski)"/><rect x="0" y="0" width="91.6" height="9.0" fill="#8e6850" opacity="0.25"/><path d="M0 85.0 Q5.5 105.2 13.7 111.9 L0 111.9 Z" fill="#120c0a"/><path d="M91.6 91.8 Q84.3 107.4 75.1 111.9 L91.6 111.9 Z" fill="#2a1a14"/><ellipse cx="20.2" cy="64.9" rx="18.3" ry="15.7" fill="#8e6850" opacity="0.1"/><ellipse cx="71.4" cy="64.9" rx="18.3" ry="15.7" fill="#8e6850" opacity="0.1"/><path d="M38.5 34.7 Q34.8 50.4 30.2 58.2 Q45.8 66.0 61.4 58.2 Q56.8 50.4 53.1 34.7 Z" fill="#8e6850" opacity="0.2"/><ellipse cx="45.8" cy="51.5" rx="6.4" ry="13.4" fill="#fff" opacity="0.16"/><ellipse cx="38.5" cy="59.9" rx="4.1" ry="2.0" fill="#2a1410" opacity="0.5"/><ellipse cx="53.1" cy="59.9" rx="4.1" ry="2.0" fill="#2a1410" opacity="0.5"/><path d="M38.5 15.1 Q23.8 10.6 5.5 15.7" stroke="#24160e" stroke-width="3.9" fill="none" opacity="0.65" stroke-linecap="round"/><path d="M53.1 15.1 Q67.8 10.6 86.1 15.7" stroke="#24160e" stroke-width="3.9" fill="none" opacity="0.65" stroke-linecap="round"/><ellipse cx="22.9" cy="30.2" rx="13.7" ry="5.0" fill="#8e6850" opacity="0.35"/><path d="M11.9 29.1 Q22.9 22.4 33.9 29.1 Q22.9 33.0 11.9 29.1 Z" fill="#140c0a" opacity="0.85"/><ellipse cx="68.7" cy="30.2" rx="13.7" ry="5.0" fill="#8e6850" opacity="0.35"/><path d="M57.7 29.1 Q68.7 22.4 79.7 29.1 Q68.7 33.0 57.7 29.1 Z" fill="#140c0a" opacity="0.85"/><path d="M26.6 80.6 Q45.8 69.4 65.0 80.6 Q45.8 95.1 26.6 80.6 Z" fill="#b87068" opacity="0.9"/><path d="M27.5 80.6 Q45.8 79.2 64.1 80.6" stroke="#3a1512" stroke-width="1.8" fill="none" opacity="0.8"/></g></g>
<g fill="#000">
<text x="595.8" y="215.8" font-family="Liberation Sans" font-size="21.6">Video Sequence</text>
<text x="1042.8" y="100.0" font-family="Liberation Sans" font-size="21.6">Primary Branch: MER</text>
<text x="983.7" y="298.7" font-family="Liberation Sans" font-size="21.6">Auxiliary Branch: Image Alignment</text>
<text x="1629.0" y="90.5" font-family="Liberation Sans" font-size="21.6">Acquire Task-specific Knowledge</text>
<text x="1622.6" y="508.4" font-family="Liberation Sans" font-size="21.6">Acquire Genaral MER Knowledge</text>
<text x="813.3" y="425.7" font-family="Liberation Sans" font-size="21.6">Inner Loop (First-level Optimization)</text>
<text x="813.0" y="535.0" font-family="Liberation Sans" font-size="21.6">Outer Loop (Second-level Optimization)</text>
<text x="220.5" y="209.7" font-family="Liberation Sans" font-size="21.6">Task 1</text>
<text x="219.5" y="390.5" font-family="Liberation Sans" font-size="21.6">Task 2</text>
<text x="225.5" y="602.7" font-family="Liberation Sans" font-size="21.6">Task </text>
<text x="274.9" y="602.7" font-family="Liberation Serif" font-size="21.6" font-style="italic">n</text>
<path d="M1531.8 232.9 H1544 M1537.9 227 V238.8" stroke="#000" stroke-width="2.1" fill="none"/>
<rect x="440.7" y="131.8" width="3.4" height="3" fill="#000"/>
<rect x="450.7" y="131.8" width="3.4" height="3" fill="#000"/>
<rect x="460.7" y="131.8" width="3.4" height="3" fill="#000"/>
<rect x="438.5" y="310.9" width="3.4" height="3" fill="#000"/>
<rect x="448.5" y="310.9" width="3.4" height="3" fill="#000"/>
<rect x="458.5" y="310.9" width="3.4" height="3" fill="#000"/>
<rect x="438.5" y="530.9" width="3.4" height="3" fill="#000"/>
<rect x="448.5" y="530.9" width="3.4" height="3" fill="#000"/>
<rect x="458.5" y="530.9" width="3.4" height="3" fill="#000"/>
<rect x="171.2" y="423.0" width="3.4" height="3" fill="#000"/>
<rect x="181.2" y="423.0" width="3.4" height="3" fill="#000"/>
<rect x="191.2" y="423.0" width="3.4" height="3" fill="#000"/>
<text x="604.2" y="251.2" font-family="Liberation Serif" font-size="26.5" stroke="#000" stroke-width="0.12">{</text>
<text x="617.4" y="248.5" font-family="Liberation Serif" font-size="23.5" stroke="#000" stroke-width="0.12">(</text>
<text transform="translate(626.2 248.5) scale(1.18 1)" font-family="Liberation Serif" font-size="21.5" font-style="italic" stroke="#000" stroke-width="0.12">x</text>
<text transform="translate(638.5 239.9) scale(1.08 1)" font-family="Liberation Serif" font-size="15.0" font-style="italic">s</text>
<text transform="translate(637.8 254.2) scale(1.08 1)" font-family="Liberation Serif" font-size="15.0" font-style="italic">i,j</text>
<text x="657.0" y="248.5" font-family="Liberation Serif" font-size="21.5" stroke="#000" stroke-width="0.12">,</text>
<text transform="translate(668.1 248.5) scale(1.18 1)" font-family="Liberation Serif" font-size="21.5" font-style="italic" stroke="#000" stroke-width="0.12">y</text>
<text transform="translate(677.5 239.9) scale(1.08 1)" font-family="Liberation Serif" font-size="15.0" font-style="italic">s</text>
<text transform="translate(676.8 254.2) scale(1.08 1)" font-family="Liberation Serif" font-size="15.0" font-style="italic">i,j</text>
<text x="694.5" y="248.5" font-family="Liberation Serif" font-size="23.5" stroke="#000" stroke-width="0.12">)</text>
<text x="702.0" y="251.2" font-family="Liberation Serif" font-size="26.5" stroke="#000" stroke-width="0.12">}</text>
<text transform="translate(715.3 236.9) scale(1.08 1)" font-family="Liberation Serif" font-size="15.0" font-style="italic">N</text>
<text transform="translate(727.4 231.0) scale(1.08 1)" font-family="Liberation Serif" font-size="11.0" font-style="italic">s</text>
<text transform="translate(725.8 241.0) scale(1.08 1)" font-family="Liberation Serif" font-size="11.0" font-style="italic">i</text>
<text transform="translate(715.8 255.3) scale(1.08 1)" font-family="Liberation Serif" font-size="15.0" font-style="italic">j</text>
<text transform="translate(720.8 255.3) scale(1.45 1)" font-family="Liberation Serif" font-size="15.0">=</text>
<text x="732.4" y="255.3" font-family="Liberation Serif" font-size="15.0">1</text>
<text transform="translate(686.0 309.0) scale(1.18 1)" font-family="Liberation Serif" font-size="24.0" font-style="italic" stroke="#000" stroke-width="0.12">f</text>
<text transform="translate(696.0 313.0) scale(1.18 1)" font-family="Liberation Serif" font-size="17.0" font-style="italic" stroke="#000" stroke-width="0.12">θ</text>
<text transform="translate(1442.6 113.6) scale(1.05 1)" font-family="Liberation Serif" font-size="24.5" font-style="italic" stroke="#000" stroke-width="0.12">λ</text>
<text transform="translate(1456.5 116.6) scale(1.10 1)" font-family="Liberation Serif" font-size="16.0">1</text>
<text transform="translate(1442.6 316.0) scale(1.05 1)" font-family="Liberation Serif" font-size="24.5" font-style="italic" stroke="#000" stroke-width="0.12">λ</text>
<text transform="translate(1457.3 318.9) scale(1.05 1)" font-family="Liberation Serif" font-size="16.0">2</text>
<path d="M991.42 138.13 C991.01 135.28 987.28 135.13 985.90 139.55 C984.80 144.29 983.14 150.14 979.28 150.77 C977.35 151.08 977.62 147.92 980.38 148.24 C983.70 148.87 986.18 151.40 989.63 150.93 C991.01 150.61 991.70 149.19 991.70 148.24" fill="none" stroke="#000" stroke-width="1.75" stroke-linecap="round"/>
<text transform="translate(992.9 154.5) scale(1.08 1)" font-family="Liberation Serif" font-size="15.0" font-style="italic">pri</text>
<text x="1013.6" y="151.4" font-family="Liberation Serif" font-size="23.5" stroke="#000" stroke-width="0.12">(</text>
<path d="M1022.54 140.34 C1023.88 136.39 1028.08 135.60 1032.28 135.60 C1037.32 135.60 1039.00 139.55 1038.50 143.18 C1037.66 149.03 1032.62 151.40 1027.58 151.40 L1022.20 151.40 M1029.59 136.55 C1029.26 142.71 1028.08 147.92 1025.22 151.08" fill="none" stroke="#000" stroke-width="1.6" stroke-linecap="round"/>
<text transform="translate(1040.3 143.0) scale(1.08 1)" font-family="Liberation Serif" font-size="15.0" font-style="italic">s</text>
<text transform="translate(1039.1 156.0) scale(1.08 1)" font-family="Liberation Serif" font-size="15.0" font-style="italic">i</text>
<text x="1049.2" y="151.4" font-family="Liberation Serif" font-size="21.5" stroke="#000" stroke-width="0.12">,</text>
<text transform="translate(1057.2 151.4) scale(1.18 1)" font-family="Liberation Serif" font-size="21.5" font-style="italic" stroke="#000" stroke-width="0.12">f</text>
<text transform="translate(1065.2 155.0) scale(1.08 1)" font-family="Liberation Serif" font-size="15.0" font-style="italic">θ</text>
<text x="1075.8" y="151.4" font-family="Liberation Serif" font-size="23.5" stroke="#000" stroke-width="0.12">)</text>
<text transform="translate(1089.6 151.4) scale(1.40 1)" font-family="Liberation Serif" font-size="21.5" stroke="#000" stroke-width="0.12">=</text>
<rect x="1115.5" y="144.9" width="33.0" height="1.4" fill="#000"/>
<text x="1126.1" y="136.9" font-family="Liberation Serif" font-size="21.5" stroke="#000" stroke-width="0.12">1</text>
<text transform="translate(1118.6 165.8) scale(1.18 1)" font-family="Liberation Serif" font-size="21.5" font-style="italic" stroke="#000" stroke-width="0.12">N</text>
<text transform="translate(1137.3 158.0) scale(1.08 1)" font-family="Liberation Serif" font-size="15.0" font-style="italic">s</text>
<text transform="translate(1134.6 170.0) scale(1.08 1)" font-family="Liberation Serif" font-size="15.0" font-style="italic">i</text>
<path d="M1156.2 131.1 L1183.8 131.1 L1185.2 138.7 L1184.0 138.7 L1179.4 133.0 L1161.1 133.0 L1172.4 145.8 L1159.1 158.3 L1179.4 158.3 L1184.3 152.2 L1185.2 152.2 L1183.2 160.4 L1156.2 160.4 L1169.2 146.3 Z" fill="#000"/>
<text transform="translate(1161.0 124.5) scale(1.08 1)" font-family="Liberation Serif" font-size="15.0" font-style="italic">N</text>
<text transform="translate(1172.4 119.5) scale(1.08 1)" font-family="Liberation Serif" font-size="11.0" font-style="italic">s</text>
<text transform="translate(1170.8 128.0) scale(1.08 1)" font-family="Liberation Serif" font-size="11.0" font-style="italic">i</text>
<text transform="translate(1159.1 174.0) scale(1.08 1)" font-family="Liberation Serif" font-size="15.0" font-style="italic">j</text>
<text transform="translate(1163.8 174.0) scale(1.45 1)" font-family="Liberation Serif" font-size="15.0">=</text>
<text x="1174.7" y="174.0" font-family="Liberation Serif" font-size="15.0">1</text>
<text transform="translate(1192.5 151.4) scale(1.18 1)" font-family="Liberation Serif" font-size="21.5" font-style="italic" stroke="#000" stroke-width="0.12">y</text>
<text transform="translate(1202.8 143.0) scale(1.08 1)" font-family="Liberation Serif" font-size="15.0" font-style="italic">s</text>
<text transform="translate(1201.1 156.0) scale(1.08 1)" font-family="Liberation Serif" font-size="15.0" font-style="italic">i,j</text>
<text x="1221.3" y="151.4" font-family="Liberation Serif" font-size="21.5" stroke="#000" stroke-width="0.12">log</text>
<text transform="translate(1253.9 151.4) scale(1.18 1)" font-family="Liberation Serif" font-size="21.5" font-style="italic" stroke="#000" stroke-width="0.12">f</text>
<text transform="translate(1261.7 155.0) scale(1.08 1)" font-family="Liberation Serif" font-size="15.0" font-style="italic">θ</text>
<text x="1272.3" y="151.4" font-family="Liberation Serif" font-size="23.5" stroke="#000" stroke-width="0.12">(</text>
<text transform="translate(1281.1 151.4) scale(1.18 1)" font-family="Liberation Serif" font-size="21.5" font-style="italic" stroke="#000" stroke-width="0.12">x</text>
<text transform="translate(1293.3 143.0) scale(1.08 1)" font-family="Liberation Serif" font-size="15.0" font-style="italic">s</text>
<text transform="translate(1292.1 156.0) scale(1.08 1)" font-family="Liberation Serif" font-size="15.0" font-style="italic">i,j</text>
<text x="1309.6" y="151.4" font-family="Liberation Serif" font-size="23.5" stroke="#000" stroke-width="0.12">)</text>
<path d="M890.92 341.13 C890.51 338.28 886.78 338.13 885.40 342.55 C884.30 347.29 882.64 353.14 878.78 353.77 C876.85 354.08 877.12 350.92 879.88 351.24 C883.20 351.87 885.68 354.40 889.13 353.93 C890.51 353.61 891.20 352.19 891.20 351.24" fill="none" stroke="#000" stroke-width="1.75" stroke-linecap="round"/>
<text transform="translate(891.0 357.5) scale(1.08 1)" font-family="Liberation Serif" font-size="15.0" font-style="italic">aux</text>
<text x="919.7" y="354.4" font-family="Liberation Serif" font-size="23.5" stroke="#000" stroke-width="0.12">(</text>
<path d="M928.44 343.34 C929.78 339.39 933.98 338.60 938.18 338.60 C943.22 338.60 944.90 342.55 944.40 346.18 C943.56 352.03 938.52 354.40 933.48 354.40 L928.10 354.40 M935.49 339.55 C935.16 345.71 933.98 350.92 931.12 354.08" fill="none" stroke="#000" stroke-width="1.6" stroke-linecap="round"/>
<text transform="translate(945.8 346.0) scale(1.08 1)" font-family="Liberation Serif" font-size="15.0" font-style="italic">s</text>
<text transform="translate(944.6 359.0) scale(1.08 1)" font-family="Liberation Serif" font-size="15.0" font-style="italic">i</text>
<text x="954.5" y="354.4" font-family="Liberation Serif" font-size="21.5" stroke="#000" stroke-width="0.12">,</text>
<path d="M964.34 343.34 C965.68 339.39 969.88 338.60 974.08 338.60 C979.12 338.60 980.80 342.55 980.30 346.18 C979.46 352.03 974.42 354.40 969.38 354.40 L964.00 354.40 M971.39 339.55 C971.06 345.71 969.88 350.92 967.02 354.08" fill="none" stroke="#000" stroke-width="1.6" stroke-linecap="round"/>
<text transform="translate(982.0 346.0) scale(1.08 1)" font-family="Liberation Serif" font-size="15.0" font-style="italic">aux</text>
<text transform="translate(980.6 359.0) scale(1.08 1)" font-family="Liberation Serif" font-size="15.0" font-style="italic">i</text>
<text x="1008.2" y="354.4" font-family="Liberation Serif" font-size="21.5" stroke="#000" stroke-width="0.12">,</text>
<text transform="translate(1017.4 354.4) scale(1.18 1)" font-family="Liberation Serif" font-size="21.5" font-style="italic" stroke="#000" stroke-width="0.12">f</text>
<text transform="translate(1025.2 358.0) scale(1.08 1)" font-family="Liberation Serif" font-size="15.0" font-style="italic">θ</text>
<text x="1036.2" y="354.4" font-family="Liberation Serif" font-size="23.5" stroke="#000" stroke-width="0.12">)</text>
<text transform="translate(1050.2 354.4) scale(1.40 1)" font-family="Liberation Serif" font-size="21.5" stroke="#000" stroke-width="0.12">=</text>
<rect x="1076.8" y="347.2" width="82.2" height="1.5" fill="#000"/>
<text x="1111.4" y="338.6" font-family="Liberation Serif" font-size="21.5" stroke="#000" stroke-width="0.12">1</text>
<text transform="translate(1080.1 368.7) scale(1.18 1)" font-family="Liberation Serif" font-size="21.5" font-style="italic" stroke="#000" stroke-width="0.12">N</text>
<text transform="translate(1098.8 361.0) scale(1.08 1)" font-family="Liberation Serif" font-size="15.0" font-style="italic">s</text>
<text transform="translate(1096.1 373.0) scale(1.08 1)" font-family="Liberation Serif" font-size="15.0" font-style="italic">i</text>
<text transform="translate(1110.2 368.7) scale(1.18 1)" font-family="Liberation Serif" font-size="21.5" font-style="italic" stroke="#000" stroke-width="0.12">N</text>
<text transform="translate(1128.5 361.0) scale(1.08 1)" font-family="Liberation Serif" font-size="15.0" font-style="italic">aux</text>
<text transform="translate(1126.1 373.0) scale(1.08 1)" font-family="Liberation Serif" font-size="15.0" font-style="italic">i</text>
<path d="M1166.4 333.2 L1193.5 333.2 L1194.9 341.0 L1193.8 341.0 L1189.2 335.1 L1171.2 335.1 L1182.4 348.1 L1169.2 361.0 L1189.2 361.0 L1194.0 354.7 L1194.9 354.7 L1192.9 363.1 L1166.4 363.1 L1179.2 348.7 Z" fill="#000"/>
<path d="M1202.9 333.2 L1230.5 333.2 L1232.0 341.0 L1230.8 341.0 L1226.2 335.1 L1207.8 335.1 L1219.2 348.1 L1205.8 361.0 L1226.2 361.0 L1231.1 354.7 L1232.0 354.7 L1230.0 363.1 L1202.9 363.1 L1216.0 348.7 Z" fill="#000"/>
<text transform="translate(1171.5 326.5) scale(1.08 1)" font-family="Liberation Serif" font-size="15.0" font-style="italic">N</text>
<text transform="translate(1182.9 321.5) scale(1.08 1)" font-family="Liberation Serif" font-size="11.0" font-style="italic">s</text>
<text transform="translate(1181.3 330.0) scale(1.08 1)" font-family="Liberation Serif" font-size="11.0" font-style="italic">i</text>
<text transform="translate(1201.1 326.5) scale(1.08 1)" font-family="Liberation Serif" font-size="15.0" font-style="italic">N</text>
<text transform="translate(1212.6 321.5) scale(1.08 1)" font-family="Liberation Serif" font-size="11.0" font-style="italic">aux</text>
<text transform="translate(1211.3 330.0) scale(1.08 1)" font-family="Liberation Serif" font-size="11.0" font-style="italic">i</text>
<text transform="translate(1168.7 376.0) scale(1.08 1)" font-family="Liberation Serif" font-size="15.0" font-style="italic">j</text>
<text transform="translate(1173.9 376.0) scale(1.45 1)" font-family="Liberation Serif" font-size="15.0">=</text>
<text x="1186.0" y="376.0" font-family="Liberation Serif" font-size="15.0">1</text>
<text transform="translate(1205.2 376.0) scale(1.08 1)" font-family="Liberation Serif" font-size="15.0" font-style="italic">j</text>
<text transform="translate(1210.4 376.0) scale(1.45 1)" font-family="Liberation Serif" font-size="15.0">=</text>
<text x="1222.4" y="376.0" font-family="Liberation Serif" font-size="15.0">1</text>
<text transform="translate(1238.6 354.4) scale(1.18 1)" font-family="Liberation Serif" font-size="21.5" font-style="italic" stroke="#000" stroke-width="0.12">k</text>
<text x="1250.0" y="354.4" font-family="Liberation Serif" font-size="23.5" stroke="#000" stroke-width="0.12">(</text>
<text transform="translate(1258.7 354.4) scale(1.18 1)" font-family="Liberation Serif" font-size="21.5" font-style="italic" stroke="#000" stroke-width="0.12">f</text>
<text transform="translate(1266.7 358.0) scale(1.08 1)" font-family="Liberation Serif" font-size="15.0" font-style="italic">θ</text>
<text x="1278.4" y="354.4" font-family="Liberation Serif" font-size="23.5" stroke="#000" stroke-width="0.12">(</text>
<text transform="translate(1286.5 354.4) scale(1.18 1)" font-family="Liberation Serif" font-size="21.5" font-style="italic" stroke="#000" stroke-width="0.12">x</text>
<text transform="translate(1298.8 346.0) scale(1.08 1)" font-family="Liberation Serif" font-size="15.0" font-style="italic">s</text>
<text transform="translate(1297.6 359.0) scale(1.08 1)" font-family="Liberation Serif" font-size="15.0" font-style="italic">i,j</text>
<text x="1315.2" y="354.4" font-family="Liberation Serif" font-size="23.5" stroke="#000" stroke-width="0.12">)</text>
<text x="1325.2" y="354.4" font-family="Liberation Serif" font-size="21.5" stroke="#000" stroke-width="0.12">,</text>
<text transform="translate(1334.7 354.4) scale(1.18 1)" font-family="Liberation Serif" font-size="21.5" font-style="italic" stroke="#000" stroke-width="0.12">f</text>
<text transform="translate(1342.7 358.0) scale(1.08 1)" font-family="Liberation Serif" font-size="15.0" font-style="italic">θ</text>
<text x="1355.0" y="354.4" font-family="Liberation Serif" font-size="23.5" stroke="#000" stroke-width="0.12">(</text>
<text transform="translate(1362.6 354.4) scale(1.18 1)" font-family="Liberation Serif" font-size="21.5" font-style="italic" stroke="#000" stroke-width="0.12">x</text>
<text transform="translate(1374.5 346.0) scale(1.08 1)" font-family="Liberation Serif" font-size="15.0" font-style="italic">aux</text>
<text transform="translate(1373.6 359.0) scale(1.08 1)" font-family="Liberation Serif" font-size="15.0" font-style="italic">i,j</text>
<text x="1401.6" y="354.4" font-family="Liberation Serif" font-size="23.5" stroke="#000" stroke-width="0.12">))</text>
<text transform="translate(1647.2 127.2) scale(1.18 1)" font-family="Liberation Serif" font-size="21.5" font-style="italic" stroke="#000" stroke-width="0.12">f</text>
<text transform="translate(1656.1 119.5) scale(1.08 1)" font-family="Liberation Serif" font-size="15.0" font-style="italic">i</text>
<text transform="translate(1655.2 131.5) scale(1.08 1)" font-family="Liberation Serif" font-size="15.0" font-style="italic">θ</text>
<text transform="translate(1671.5 127.2) scale(1.40 1)" font-family="Liberation Serif" font-size="21.5" stroke="#000" stroke-width="0.12">=</text>
<text transform="translate(1695.9 127.2) scale(1.18 1)" font-family="Liberation Serif" font-size="21.5" font-style="italic" stroke="#000" stroke-width="0.12">f</text>
<text transform="translate(1703.7 131.0) scale(1.08 1)" font-family="Liberation Serif" font-size="15.0" font-style="italic">θ</text>
<text transform="translate(1718.5 127.2) scale(1.40 1)" font-family="Liberation Serif" font-size="21.5" stroke="#000" stroke-width="0.12">−</text>
<text transform="translate(1740.0 127.2) scale(1.18 1)" font-family="Liberation Serif" font-size="21.5" font-style="italic" stroke="#000" stroke-width="0.12">α</text>
<path d="M1754.0 111.6 L1771.0 111.6 L1762.5 127.2 Z M1757.4 112.8 L1769.8 112.8 L1763.0 125.0 Z" fill="#000" fill-rule="evenodd"/>
<text transform="translate(1772.5 130.0) scale(1.08 1)" font-family="Liberation Serif" font-size="15.0" font-style="italic">f</text>
<text transform="translate(1778.4 132.0) scale(1.08 1)" font-family="Liberation Serif" font-size="11.0" font-style="italic">θ</text>
<text x="1787.5" y="128.8" font-family="Liberation Serif" font-size="26.5" stroke="#000" stroke-width="0.12">{</text>
<text transform="translate(1798.6 127.2) scale(1.18 1)" font-family="Liberation Serif" font-size="21.5" font-style="italic" stroke="#000" stroke-width="0.12">λ</text>
<text x="1807.7" y="130.0" font-family="Liberation Serif" font-size="15.0">1</text>
<path d="M1832.92 113.93 C1832.51 111.08 1828.78 110.93 1827.40 115.35 C1826.30 120.09 1824.64 125.94 1820.78 126.57 C1818.85 126.88 1819.12 123.72 1821.88 124.04 C1825.20 124.67 1827.68 127.20 1831.13 126.73 C1832.51 126.41 1833.20 124.99 1833.20 124.04" fill="none" stroke="#000" stroke-width="1.75" stroke-linecap="round"/>
<text transform="translate(1834.4 130.5) scale(1.08 1)" font-family="Liberation Serif" font-size="15.0" font-style="italic">pri</text>
<text x="1855.0" y="127.2" font-family="Liberation Serif" font-size="23.5" stroke="#000" stroke-width="0.12">(</text>
<path d="M1862.04 116.14 C1863.38 112.19 1867.58 111.40 1871.78 111.40 C1876.82 111.40 1878.50 115.35 1878.00 118.98 C1877.16 124.83 1872.12 127.20 1867.08 127.20 L1861.70 127.20 M1869.09 112.35 C1868.76 118.51 1867.58 123.72 1864.72 126.88" fill="none" stroke="#000" stroke-width="1.6" stroke-linecap="round"/>
<text transform="translate(1879.8 119.0) scale(1.08 1)" font-family="Liberation Serif" font-size="15.0" font-style="italic">s</text>
<text transform="translate(1878.6 132.0) scale(1.08 1)" font-family="Liberation Serif" font-size="15.0" font-style="italic">i</text>
<text x="1888.7" y="127.2" font-family="Liberation Serif" font-size="21.5" stroke="#000" stroke-width="0.12">,</text>
<text transform="translate(1897.4 127.2) scale(1.18 1)" font-family="Liberation Serif" font-size="21.5" font-style="italic" stroke="#000" stroke-width="0.12">f</text>
<text transform="translate(1905.2 131.0) scale(1.08 1)" font-family="Liberation Serif" font-size="15.0" font-style="italic">θ</text>
<text x="1915.7" y="127.2" font-family="Liberation Serif" font-size="23.5" stroke="#000" stroke-width="0.12">)</text>
<text transform="translate(1715.5 163.2) scale(1.40 1)" font-family="Liberation Serif" font-size="21.5" stroke="#000" stroke-width="0.12">+</text>
<text transform="translate(1739.1 163.2) scale(1.18 1)" font-family="Liberation Serif" font-size="21.5" font-style="italic" stroke="#000" stroke-width="0.12">λ</text>
<text x="1748.8" y="166.0" font-family="Liberation Serif" font-size="15.0">2</text>
<path d="M1773.52 149.93 C1773.11 147.08 1769.38 146.93 1768.00 151.35 C1766.90 156.09 1765.24 161.94 1761.38 162.57 C1759.45 162.88 1759.72 159.72 1762.48 160.04 C1765.80 160.67 1768.28 163.20 1771.73 162.73 C1773.11 162.41 1773.80 160.99 1773.80 160.04" fill="none" stroke="#000" stroke-width="1.75" stroke-linecap="round"/>
<text transform="translate(1773.5 166.5) scale(1.08 1)" font-family="Liberation Serif" font-size="15.0" font-style="italic">aux</text>
<text x="1801.6" y="163.2" font-family="Liberation Serif" font-size="23.5" stroke="#000" stroke-width="0.12">(</text>
<path d="M1809.94 152.14 C1811.28 148.19 1815.48 147.40 1819.68 147.40 C1824.72 147.40 1826.40 151.35 1825.90 154.98 C1825.06 160.83 1820.02 163.20 1814.98 163.20 L1809.60 163.20 M1816.99 148.35 C1816.66 154.51 1815.48 159.72 1812.62 162.88" fill="none" stroke="#000" stroke-width="1.6" stroke-linecap="round"/>
<text transform="translate(1827.3 155.0) scale(1.08 1)" font-family="Liberation Serif" font-size="15.0" font-style="italic">s</text>
<text transform="translate(1826.1 168.0) scale(1.08 1)" font-family="Liberation Serif" font-size="15.0" font-style="italic">i</text>
<text x="1834.2" y="163.2" font-family="Liberation Serif" font-size="21.5" stroke="#000" stroke-width="0.12">,</text>
<path d="M1844.64 152.14 C1845.98 148.19 1850.18 147.40 1854.38 147.40 C1859.42 147.40 1861.10 151.35 1860.60 154.98 C1859.76 160.83 1854.72 163.20 1849.68 163.20 L1844.30 163.20 M1851.69 148.35 C1851.36 154.51 1850.18 159.72 1847.32 162.88" fill="none" stroke="#000" stroke-width="1.6" stroke-linecap="round"/>
<text transform="translate(1862.0 155.0) scale(1.08 1)" font-family="Liberation Serif" font-size="15.0" font-style="italic">aux</text>
<text transform="translate(1860.6 168.0) scale(1.08 1)" font-family="Liberation Serif" font-size="15.0" font-style="italic">i</text>
<text x="1887.6" y="163.2" font-family="Liberation Serif" font-size="21.5" stroke="#000" stroke-width="0.12">,</text>
<text transform="translate(1897.4 163.2) scale(1.18 1)" font-family="Liberation Serif" font-size="21.5" font-style="italic" stroke="#000" stroke-width="0.12">f</text>
<text transform="translate(1905.2 167.0) scale(1.08 1)" font-family="Liberation Serif" font-size="15.0" font-style="italic">θ</text>
<text x="1915.7" y="163.2" font-family="Liberation Serif" font-size="23.5" stroke="#000" stroke-width="0.12">)</text>
<text x="1617.1" y="555.6" font-family="Liberation Serif" font-size="21.5" stroke="#000" stroke-width="0.12">arg</text>
<text x="1651.5" y="555.6" font-family="Liberation Serif" font-size="21.5" stroke="#000" stroke-width="0.12">min</text>
<text transform="translate(1688.6 559.5) scale(1.08 1)" font-family="Liberation Serif" font-size="15.0" font-style="italic">f</text>
<text transform="translate(1694.4 561.0) scale(1.08 1)" font-family="Liberation Serif" font-size="11.0" font-style="italic">θ</text>
<rect x="1709.2" y="549.8" width="26.9" height="1.2" fill="#000"/>
<text x="1717.7" y="547.0" font-family="Liberation Serif" font-size="15.0">1</text>
<text transform="translate(1711.1 562.5) scale(1.08 1)" font-family="Liberation Serif" font-size="15.0" font-style="italic">N</text>
<text transform="translate(1722.0 565.0) scale(1.08 1)" font-family="Liberation Serif" font-size="11.0" font-style="italic">tr</text>
<path d="M1744.0 539.9 L1763.4 539.9 L1764.4 545.5 L1763.6 545.5 L1760.3 541.3 L1747.5 541.3 L1755.4 550.7 L1746.0 560.0 L1760.3 560.0 L1763.8 555.5 L1764.4 555.5 L1763.0 561.5 L1744.0 561.5 L1753.2 551.1 Z" fill="#000"/>
<text transform="translate(1765.8 546.0) scale(1.08 1)" font-family="Liberation Serif" font-size="15.0" font-style="italic">N</text>
<text transform="translate(1776.5 548.5) scale(1.08 1)" font-family="Liberation Serif" font-size="11.0" font-style="italic">tr</text>
<text transform="translate(1764.9 561.0) scale(1.08 1)" font-family="Liberation Serif" font-size="14.0" font-style="italic">i</text>
<text transform="translate(1771.9 561.0) scale(1.45 1)" font-family="Liberation Serif" font-size="14.0">=</text>
<text x="1782.8" y="561.0" font-family="Liberation Serif" font-size="14.0">1</text>
<path d="M1810.52 542.33 C1810.11 539.48 1806.38 539.33 1805.00 543.75 C1803.90 548.49 1802.24 554.34 1798.38 554.97 C1796.45 555.28 1796.72 552.12 1799.48 552.44 C1802.80 553.07 1805.28 555.60 1808.73 555.13 C1810.11 554.81 1810.80 553.39 1810.80 552.44" fill="none" stroke="#000" stroke-width="1.75" stroke-linecap="round"/>
<text transform="translate(1811.9 559.0) scale(1.08 1)" font-family="Liberation Serif" font-size="15.0" font-style="italic">pri</text>
<text x="1833.5" y="555.6" font-family="Liberation Serif" font-size="23.5" stroke="#000" stroke-width="0.12">(</text>
<path d="M1842.14 544.54 C1843.48 540.59 1847.68 539.80 1851.88 539.80 C1856.92 539.80 1858.60 543.75 1858.10 547.38 C1857.26 553.23 1852.22 555.60 1847.18 555.60 L1841.80 555.60 M1849.19 540.75 C1848.86 546.91 1847.68 552.12 1844.82 555.28" fill="none" stroke="#000" stroke-width="1.6" stroke-linecap="round"/>
<text transform="translate(1859.0 547.0) scale(1.08 1)" font-family="Liberation Serif" font-size="15.0" font-style="italic">q</text>
<text transform="translate(1858.1 560.0) scale(1.08 1)" font-family="Liberation Serif" font-size="15.0" font-style="italic">i</text>
<text x="1867.2" y="555.6" font-family="Liberation Serif" font-size="21.5" stroke="#000" stroke-width="0.12">,</text>
<text transform="translate(1876.9 555.6) scale(1.18 1)" font-family="Liberation Serif" font-size="21.5" font-style="italic" stroke="#000" stroke-width="0.12">f</text>
<text transform="translate(1886.1 547.0) scale(1.08 1)" font-family="Liberation Serif" font-size="15.0" font-style="italic">i</text>
<text transform="translate(1884.7 561.0) scale(1.08 1)" font-family="Liberation Serif" font-size="15.0" font-style="italic">θ</text>
<text x="1895.7" y="555.6" font-family="Liberation Serif" font-size="23.5" stroke="#000" stroke-width="0.12">)</text>
<text x="1909.7" y="555.6" font-family="Liberation Serif" font-size="21.5" stroke="#000" stroke-width="0.12">:</text>
<text transform="translate(1618.2 596.4) scale(1.18 1)" font-family="Liberation Serif" font-size="21.5" font-style="italic" stroke="#000" stroke-width="0.12">f</text>
<text transform="translate(1626.2 600.0) scale(1.08 1)" font-family="Liberation Serif" font-size="15.0" font-style="italic">θ</text>
<path d="M1644.8 590.4 H1664 M1650.5 585.2 Q1648 589 1644.8 590.4 Q1648 591.8 1650.5 595.6" stroke="#000" stroke-width="1.2" fill="none"/>
<text transform="translate(1671.5 596.4) scale(1.18 1)" font-family="Liberation Serif" font-size="21.5" font-style="italic" stroke="#000" stroke-width="0.12">f</text>
<text transform="translate(1679.7 600.0) scale(1.08 1)" font-family="Liberation Serif" font-size="15.0" font-style="italic">θ</text>
<text transform="translate(1695.2 596.4) scale(1.40 1)" font-family="Liberation Serif" font-size="21.5" stroke="#000" stroke-width="0.12">−</text>
<text transform="translate(1717.4 596.4) scale(1.18 1)" font-family="Liberation Serif" font-size="21.5" font-style="italic" stroke="#000" stroke-width="0.12">β</text>
<path d="M1729.6 581.5 L1746.6 581.5 L1738.1 596.4 Z M1733.0 582.7 L1745.4 582.7 L1738.6 594.3 Z" fill="#000" fill-rule="evenodd"/>
<text transform="translate(1748.4 600.0) scale(1.08 1)" font-family="Liberation Serif" font-size="15.0" font-style="italic">f</text>
<text transform="translate(1754.4 601.5) scale(1.08 1)" font-family="Liberation Serif" font-size="11.0" font-style="italic">θ</text>
<rect x="1765.0" y="590.6" width="26.8" height="1.2" fill="#000"/>
<text x="1773.2" y="587.5" font-family="Liberation Serif" font-size="15.0">1</text>
<text transform="translate(1767.1 603.0) scale(1.08 1)" font-family="Liberation Serif" font-size="15.0" font-style="italic">N</text>
<text transform="translate(1778.0 605.5) scale(1.08 1)" font-family="Liberation Serif" font-size="11.0" font-style="italic">tr</text>
<path d="M1799.7 580.5 L1819.0 580.5 L1820.0 586.1 L1819.2 586.1 L1815.9 581.9 L1803.2 581.9 L1811.1 591.2 L1801.7 600.5 L1815.9 600.5 L1819.4 596.0 L1820.0 596.0 L1818.6 602.0 L1799.7 602.0 L1808.8 591.7 Z" fill="#000"/>
<text transform="translate(1821.6 587.0) scale(1.08 1)" font-family="Liberation Serif" font-size="15.0" font-style="italic">N</text>
<text transform="translate(1832.5 589.5) scale(1.08 1)" font-family="Liberation Serif" font-size="11.0" font-style="italic">tr</text>
<text transform="translate(1820.7 602.0) scale(1.08 1)" font-family="Liberation Serif" font-size="14.0" font-style="italic">i</text>
<text transform="translate(1827.7 602.0) scale(1.45 1)" font-family="Liberation Serif" font-size="14.0">=</text>
<text x="1838.6" y="602.0" font-family="Liberation Serif" font-size="14.0">1</text>
<path d="M1866.42 583.13 C1866.01 580.28 1862.28 580.13 1860.90 584.55 C1859.80 589.29 1858.14 595.14 1854.28 595.77 C1852.35 596.08 1852.62 592.92 1855.38 593.24 C1858.70 593.87 1861.18 596.40 1864.63 595.93 C1866.01 595.61 1866.70 594.19 1866.70 593.24" fill="none" stroke="#000" stroke-width="1.75" stroke-linecap="round"/>
<text transform="translate(1867.9 600.0) scale(1.08 1)" font-family="Liberation Serif" font-size="15.0" font-style="italic">pri</text>
<text x="1889.4" y="596.4" font-family="Liberation Serif" font-size="23.5" stroke="#000" stroke-width="0.12">(</text>
<path d="M1897.94 585.34 C1899.28 581.39 1903.48 580.60 1907.68 580.60 C1912.72 580.60 1914.40 584.55 1913.90 588.18 C1913.06 594.03 1908.02 596.40 1902.98 596.40 L1897.60 596.40 M1904.99 581.55 C1904.66 587.71 1903.48 592.92 1900.62 596.08" fill="none" stroke="#000" stroke-width="1.6" stroke-linecap="round"/>
<text transform="translate(1915.0 588.0) scale(1.08 1)" font-family="Liberation Serif" font-size="15.0" font-style="italic">q</text>
<text transform="translate(1914.1 601.0) scale(1.08 1)" font-family="Liberation Serif" font-size="15.0" font-style="italic">i</text>
<text x="1923.1" y="596.4" font-family="Liberation Serif" font-size="21.5" stroke="#000" stroke-width="0.12">,</text>
<text transform="translate(1932.7 596.4) scale(1.18 1)" font-family="Liberation Serif" font-size="21.5" font-style="italic" stroke="#000" stroke-width="0.12">f</text>
<text transform="translate(1942.1 588.0) scale(1.08 1)" font-family="Liberation Serif" font-size="15.0" font-style="italic">i</text>
<text transform="translate(1940.7 602.0) scale(1.08 1)" font-family="Liberation Serif" font-size="15.0" font-style="italic">θ</text>
<text x="1951.2" y="596.4" font-family="Liberation Serif" font-size="23.5" stroke="#000" stroke-width="0.12">)</text>
</g>
</svg>
</div></body></html>
